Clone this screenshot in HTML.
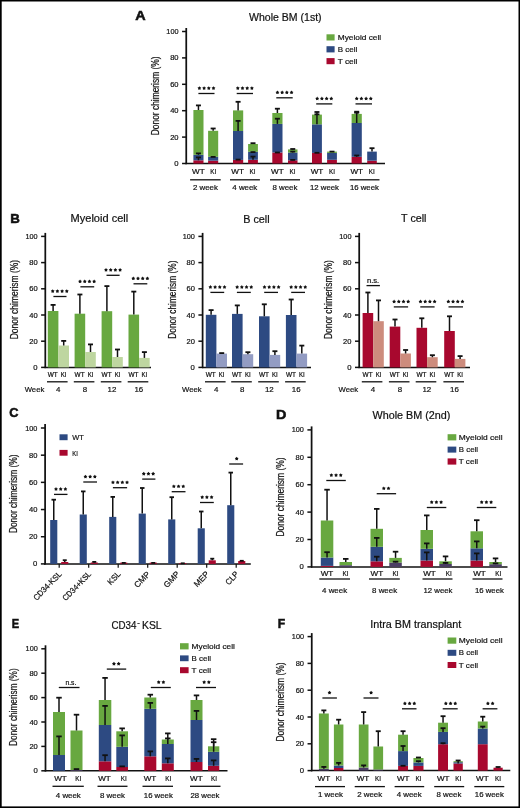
<!DOCTYPE html>
<html><head><meta charset="utf-8"><title>Figure</title>
<style>html,body{margin:0;padding:0;background:#fff;}svg{display:block;will-change:transform;}</style>
</head><body>
<svg width="520" height="808" viewBox="0 0 520 808" font-family='"Liberation Sans", sans-serif' fill="#111111">
<style>text{stroke:#111111;stroke-width:0.2px;}</style>
<rect x="0" y="0" width="520" height="808" fill="#ffffff"/>
<text x="135.2" y="20.2" font-size="13.3" textLength="10.4" lengthAdjust="spacingAndGlyphs" font-weight="bold" style="stroke-width:0.55px">A</text>
<text x="249" y="21.2" font-size="10.3" textLength="72.6" lengthAdjust="spacingAndGlyphs">Whole BM (1st)</text>
<rect x="326.5" y="34.3" width="8.1" height="6.2" fill="#68a840"/>
<text x="337.8" y="40.1" font-size="8.1" textLength="43.4" lengthAdjust="spacingAndGlyphs">Myeloid cell</text>
<rect x="326.5" y="46.2" width="8.1" height="6.2" fill="#2d4a82"/>
<text x="337.8" y="52" font-size="8.1" textLength="19.6" lengthAdjust="spacingAndGlyphs">B cell</text>
<rect x="326.5" y="58.1" width="8.1" height="6.1" fill="#a8082e"/>
<text x="337.8" y="63.8" font-size="8.1" textLength="19.6" lengthAdjust="spacingAndGlyphs">T cell</text>
<line x1="186.25" y1="164.2" x2="186.25" y2="28" stroke="#111111" stroke-width="1.75"/>
<line x1="182.05" y1="163.5" x2="186.25" y2="163.5" stroke="#111111" stroke-width="1.5"/>
<text x="178.55" y="166" font-size="7.7" text-anchor="end" textLength="4.3" lengthAdjust="spacingAndGlyphs">0</text>
<line x1="182.05" y1="137.1" x2="186.25" y2="137.1" stroke="#111111" stroke-width="1.5"/>
<text x="178.55" y="139.6" font-size="7.7" text-anchor="end" textLength="8.4" lengthAdjust="spacingAndGlyphs">20</text>
<line x1="182.05" y1="110.7" x2="186.25" y2="110.7" stroke="#111111" stroke-width="1.5"/>
<text x="178.55" y="113.2" font-size="7.7" text-anchor="end" textLength="8.4" lengthAdjust="spacingAndGlyphs">40</text>
<line x1="182.05" y1="84.3" x2="186.25" y2="84.3" stroke="#111111" stroke-width="1.5"/>
<text x="178.55" y="86.8" font-size="7.7" text-anchor="end" textLength="8.4" lengthAdjust="spacingAndGlyphs">60</text>
<line x1="182.05" y1="57.9" x2="186.25" y2="57.9" stroke="#111111" stroke-width="1.5"/>
<text x="178.55" y="60.4" font-size="7.7" text-anchor="end" textLength="8.4" lengthAdjust="spacingAndGlyphs">80</text>
<line x1="182.05" y1="31.5" x2="186.25" y2="31.5" stroke="#111111" stroke-width="1.5"/>
<text x="178.55" y="34" font-size="7.7" text-anchor="end" textLength="12.2" lengthAdjust="spacingAndGlyphs">100</text>
<text x="158.9" y="95.85" font-size="10" text-anchor="middle" textLength="78.7" lengthAdjust="spacingAndGlyphs" transform="rotate(-90 158.9 95.85)">Donor chimerism (%)</text>
<line x1="185.5" y1="163.5" x2="385" y2="163.5" stroke="#111111" stroke-width="1.5"/>
<rect x="193.4" y="160.3" width="10.1" height="3.2" fill="#a8082e"/>
<rect x="193.4" y="154.8" width="10.1" height="5.5" fill="#2d4a82"/>
<rect x="193.4" y="110" width="10.1" height="44.8" fill="#68a840"/>
<line x1="198.45" y1="160.3" x2="198.45" y2="157.4" stroke="#111111" stroke-width="1.5"/>
<rect x="195.95" y="156.5" width="5" height="1.8" fill="#111111"/>
<line x1="198.45" y1="154.8" x2="198.45" y2="153.4" stroke="#111111" stroke-width="1.5"/>
<rect x="195.95" y="152.5" width="5" height="1.8" fill="#111111"/>
<line x1="198.45" y1="110" x2="198.45" y2="105.4" stroke="#111111" stroke-width="1.5"/>
<rect x="195.95" y="104.5" width="5" height="1.8" fill="#111111"/>
<rect x="208.1" y="160.7" width="10.1" height="2.8" fill="#a8082e"/>
<rect x="208.1" y="156.8" width="10.1" height="3.9" fill="#2d4a82"/>
<rect x="208.1" y="130.8" width="10.1" height="26" fill="#68a840"/>
<line x1="213.15" y1="156.8" x2="213.15" y2="156.9" stroke="#111111" stroke-width="1.5"/>
<rect x="210.65" y="156" width="5" height="1.8" fill="#111111"/>
<line x1="213.15" y1="130.8" x2="213.15" y2="128.5" stroke="#111111" stroke-width="1.5"/>
<rect x="210.65" y="127.6" width="5" height="1.8" fill="#111111"/>
<rect x="233" y="159.9" width="10.2" height="3.6" fill="#a8082e"/>
<rect x="233" y="131" width="10.2" height="28.9" fill="#2d4a82"/>
<rect x="233" y="110.4" width="10.2" height="20.6" fill="#68a840"/>
<line x1="238.1" y1="159.9" x2="238.1" y2="159.6" stroke="#111111" stroke-width="1.5"/>
<rect x="235.6" y="158.7" width="5" height="1.8" fill="#111111"/>
<line x1="238.1" y1="131" x2="238.1" y2="120.9" stroke="#111111" stroke-width="1.5"/>
<rect x="235.6" y="120" width="5" height="1.8" fill="#111111"/>
<line x1="238.1" y1="110.4" x2="238.1" y2="101.8" stroke="#111111" stroke-width="1.5"/>
<rect x="235.6" y="100.9" width="5" height="1.8" fill="#111111"/>
<rect x="248.1" y="159.8" width="9.8" height="3.7" fill="#a8082e"/>
<rect x="248.1" y="151.8" width="9.8" height="8" fill="#2d4a82"/>
<rect x="248.1" y="144" width="9.8" height="7.8" fill="#68a840"/>
<line x1="253" y1="159.8" x2="253" y2="156.6" stroke="#111111" stroke-width="1.5"/>
<rect x="250.5" y="155.7" width="5" height="1.8" fill="#111111"/>
<line x1="253" y1="151.8" x2="253" y2="152.1" stroke="#111111" stroke-width="1.5"/>
<rect x="250.5" y="151.2" width="5" height="1.8" fill="#111111"/>
<line x1="253" y1="144" x2="253" y2="143.2" stroke="#111111" stroke-width="1.5"/>
<rect x="250.5" y="142.3" width="5" height="1.8" fill="#111111"/>
<rect x="272.3" y="152.5" width="10.2" height="11" fill="#a8082e"/>
<rect x="272.3" y="123.9" width="10.2" height="28.6" fill="#2d4a82"/>
<rect x="272.3" y="113" width="10.2" height="10.9" fill="#68a840"/>
<line x1="277.4" y1="152.5" x2="277.4" y2="152.5" stroke="#111111" stroke-width="1.5"/>
<rect x="274.9" y="151.6" width="5" height="1.8" fill="#111111"/>
<line x1="277.4" y1="123.9" x2="277.4" y2="118.7" stroke="#111111" stroke-width="1.5"/>
<rect x="274.9" y="117.8" width="5" height="1.8" fill="#111111"/>
<line x1="277.4" y1="113" x2="277.4" y2="108.7" stroke="#111111" stroke-width="1.5"/>
<rect x="274.9" y="107.8" width="5" height="1.8" fill="#111111"/>
<rect x="288" y="160.3" width="9.5" height="3.2" fill="#a8082e"/>
<rect x="288" y="152.5" width="9.5" height="7.8" fill="#2d4a82"/>
<rect x="288" y="149.4" width="9.5" height="3.1" fill="#68a840"/>
<line x1="292.75" y1="160.3" x2="292.75" y2="159.9" stroke="#111111" stroke-width="1.5"/>
<rect x="290.25" y="159" width="5" height="1.8" fill="#111111"/>
<line x1="292.75" y1="152.5" x2="292.75" y2="151.6" stroke="#111111" stroke-width="1.5"/>
<rect x="290.25" y="150.7" width="5" height="1.8" fill="#111111"/>
<line x1="292.75" y1="149.4" x2="292.75" y2="149" stroke="#111111" stroke-width="1.5"/>
<rect x="290.25" y="148.1" width="5" height="1.8" fill="#111111"/>
<rect x="312" y="152.9" width="9.9" height="10.6" fill="#a8082e"/>
<rect x="312" y="124.3" width="9.9" height="28.6" fill="#2d4a82"/>
<rect x="312" y="114.6" width="9.9" height="9.7" fill="#68a840"/>
<line x1="316.95" y1="152.9" x2="316.95" y2="152.8" stroke="#111111" stroke-width="1.5"/>
<rect x="314.45" y="151.9" width="5" height="1.8" fill="#111111"/>
<line x1="316.95" y1="124.3" x2="316.95" y2="114.3" stroke="#111111" stroke-width="1.5"/>
<rect x="314.45" y="113.4" width="5" height="1.8" fill="#111111"/>
<line x1="316.95" y1="114.6" x2="316.95" y2="112" stroke="#111111" stroke-width="1.5"/>
<rect x="314.45" y="111.1" width="5" height="1.8" fill="#111111"/>
<rect x="327.1" y="159.8" width="9.8" height="3.7" fill="#a8082e"/>
<rect x="327.1" y="152.9" width="9.8" height="6.9" fill="#2d4a82"/>
<rect x="327.1" y="151.6" width="9.8" height="1.3" fill="#68a840"/>
<line x1="332" y1="151.6" x2="332" y2="151.6" stroke="#111111" stroke-width="1.5"/>
<rect x="329.5" y="150.7" width="5" height="1.8" fill="#111111"/>
<rect x="351.6" y="156.8" width="10.2" height="6.7" fill="#a8082e"/>
<rect x="351.6" y="123" width="10.2" height="33.8" fill="#2d4a82"/>
<rect x="351.6" y="113.9" width="10.2" height="9.1" fill="#68a840"/>
<line x1="356.7" y1="156.8" x2="356.7" y2="155.5" stroke="#111111" stroke-width="1.5"/>
<rect x="354.2" y="154.6" width="5" height="1.8" fill="#111111"/>
<line x1="356.7" y1="123" x2="356.7" y2="112.7" stroke="#111111" stroke-width="1.5"/>
<rect x="354.2" y="111.8" width="5" height="1.8" fill="#111111"/>
<line x1="356.7" y1="113.9" x2="356.7" y2="111.7" stroke="#111111" stroke-width="1.5"/>
<rect x="354.2" y="110.8" width="5" height="1.8" fill="#111111"/>
<rect x="367.2" y="160.7" width="9.6" height="2.8" fill="#a8082e"/>
<rect x="367.2" y="151.6" width="9.6" height="9.1" fill="#2d4a82"/>
<line x1="372" y1="151.6" x2="372" y2="148.2" stroke="#111111" stroke-width="1.5"/>
<rect x="369.5" y="147.3" width="5" height="1.8" fill="#111111"/>
<polygon points="199.4,86.2 200.11,87.23 201.3,87.58 200.54,88.57 200.58,89.82 199.4,89.4 198.22,89.82 198.26,88.57 197.5,87.58 198.69,87.23" fill="#111111"/>
<polygon points="204.1,86.2 204.81,87.23 206,87.58 205.24,88.57 205.28,89.82 204.1,89.4 202.92,89.82 202.96,88.57 202.2,87.58 203.39,87.23" fill="#111111"/>
<polygon points="208.8,86.2 209.51,87.23 210.7,87.58 209.94,88.57 209.98,89.82 208.8,89.4 207.62,89.82 207.66,88.57 206.9,87.58 208.09,87.23" fill="#111111"/>
<polygon points="213.5,86.2 214.21,87.23 215.4,87.58 214.64,88.57 214.68,89.82 213.5,89.4 212.32,89.82 212.36,88.57 211.6,87.58 212.79,87.23" fill="#111111"/>
<line x1="198.4" y1="93.5" x2="214.5" y2="93.5" stroke="#111111" stroke-width="1.3"/>
<polygon points="237.8,86.2 238.51,87.23 239.7,87.58 238.94,88.57 238.98,89.82 237.8,89.4 236.62,89.82 236.66,88.57 235.9,87.58 237.09,87.23" fill="#111111"/>
<polygon points="242.5,86.2 243.21,87.23 244.4,87.58 243.64,88.57 243.68,89.82 242.5,89.4 241.32,89.82 241.36,88.57 240.6,87.58 241.79,87.23" fill="#111111"/>
<polygon points="247.2,86.2 247.91,87.23 249.1,87.58 248.34,88.57 248.38,89.82 247.2,89.4 246.02,89.82 246.06,88.57 245.3,87.58 246.49,87.23" fill="#111111"/>
<polygon points="251.9,86.2 252.61,87.23 253.8,87.58 253.04,88.57 253.08,89.82 251.9,89.4 250.72,89.82 250.76,88.57 250,87.58 251.19,87.23" fill="#111111"/>
<line x1="236.7" y1="93.5" x2="253" y2="93.5" stroke="#111111" stroke-width="1.3"/>
<polygon points="277.45,90.5 278.16,91.53 279.35,91.88 278.59,92.87 278.63,94.12 277.45,93.7 276.27,94.12 276.31,92.87 275.55,91.88 276.74,91.53" fill="#111111"/>
<polygon points="282.15,90.5 282.86,91.53 284.05,91.88 283.29,92.87 283.33,94.12 282.15,93.7 280.97,94.12 281.01,92.87 280.25,91.88 281.44,91.53" fill="#111111"/>
<polygon points="286.85,90.5 287.56,91.53 288.75,91.88 287.99,92.87 288.03,94.12 286.85,93.7 285.67,94.12 285.71,92.87 284.95,91.88 286.14,91.53" fill="#111111"/>
<polygon points="291.55,90.5 292.26,91.53 293.45,91.88 292.69,92.87 292.73,94.12 291.55,93.7 290.37,94.12 290.41,92.87 289.65,91.88 290.84,91.53" fill="#111111"/>
<line x1="276.3" y1="97.8" x2="292.7" y2="97.8" stroke="#111111" stroke-width="1.3"/>
<polygon points="317.2,96.6 317.91,97.63 319.1,97.98 318.34,98.97 318.38,100.22 317.2,99.8 316.02,100.22 316.06,98.97 315.3,97.98 316.49,97.63" fill="#111111"/>
<polygon points="321.9,96.6 322.61,97.63 323.8,97.98 323.04,98.97 323.08,100.22 321.9,99.8 320.72,100.22 320.76,98.97 320,97.98 321.19,97.63" fill="#111111"/>
<polygon points="326.6,96.6 327.31,97.63 328.5,97.98 327.74,98.97 327.78,100.22 326.6,99.8 325.42,100.22 325.46,98.97 324.7,97.98 325.89,97.63" fill="#111111"/>
<polygon points="331.3,96.6 332.01,97.63 333.2,97.98 332.44,98.97 332.48,100.22 331.3,99.8 330.12,100.22 330.16,98.97 329.4,97.98 330.59,97.63" fill="#111111"/>
<line x1="316.2" y1="103.9" x2="332.3" y2="103.9" stroke="#111111" stroke-width="1.3"/>
<polygon points="356.7,96.6 357.41,97.63 358.6,97.98 357.84,98.97 357.88,100.22 356.7,99.8 355.52,100.22 355.56,98.97 354.8,97.98 355.99,97.63" fill="#111111"/>
<polygon points="361.4,96.6 362.11,97.63 363.3,97.98 362.54,98.97 362.58,100.22 361.4,99.8 360.22,100.22 360.26,98.97 359.5,97.98 360.69,97.63" fill="#111111"/>
<polygon points="366.1,96.6 366.81,97.63 368,97.98 367.24,98.97 367.28,100.22 366.1,99.8 364.92,100.22 364.96,98.97 364.2,97.98 365.39,97.63" fill="#111111"/>
<polygon points="370.8,96.6 371.51,97.63 372.7,97.98 371.94,98.97 371.98,100.22 370.8,99.8 369.62,100.22 369.66,98.97 368.9,97.98 370.09,97.63" fill="#111111"/>
<line x1="355.5" y1="103.9" x2="372" y2="103.9" stroke="#111111" stroke-width="1.3"/>
<text x="198.4" y="174.11" font-size="7.3" text-anchor="middle" textLength="12.6" lengthAdjust="spacingAndGlyphs">WT</text>
<text x="213.2" y="174.11" font-size="7.3" text-anchor="middle" textLength="6" lengthAdjust="spacingAndGlyphs">KI</text>
<line x1="190.1" y1="179.8" x2="220.7" y2="179.8" stroke="#111111" stroke-width="1.3"/>
<text x="205.4" y="190.41" font-size="7.6" text-anchor="middle" textLength="25" lengthAdjust="spacingAndGlyphs">2 week</text>
<text x="237.6" y="174.11" font-size="7.3" text-anchor="middle" textLength="12.6" lengthAdjust="spacingAndGlyphs">WT</text>
<text x="252.6" y="174.11" font-size="7.3" text-anchor="middle" textLength="6" lengthAdjust="spacingAndGlyphs">KI</text>
<line x1="230" y1="179.8" x2="259.9" y2="179.8" stroke="#111111" stroke-width="1.3"/>
<text x="244.8" y="190.41" font-size="7.6" text-anchor="middle" textLength="25" lengthAdjust="spacingAndGlyphs">4 week</text>
<text x="277.4" y="174.11" font-size="7.3" text-anchor="middle" textLength="12.6" lengthAdjust="spacingAndGlyphs">WT</text>
<text x="292.6" y="174.11" font-size="7.3" text-anchor="middle" textLength="6" lengthAdjust="spacingAndGlyphs">KI</text>
<line x1="270" y1="179.8" x2="300" y2="179.8" stroke="#111111" stroke-width="1.3"/>
<text x="284.9" y="190.41" font-size="7.6" text-anchor="middle" textLength="25" lengthAdjust="spacingAndGlyphs">8 week</text>
<text x="317" y="174.11" font-size="7.3" text-anchor="middle" textLength="12.6" lengthAdjust="spacingAndGlyphs">WT</text>
<text x="332" y="174.11" font-size="7.3" text-anchor="middle" textLength="6" lengthAdjust="spacingAndGlyphs">KI</text>
<line x1="309.5" y1="179.8" x2="339.5" y2="179.8" stroke="#111111" stroke-width="1.3"/>
<text x="324.5" y="190.41" font-size="7.6" text-anchor="middle" textLength="29" lengthAdjust="spacingAndGlyphs">12 week</text>
<text x="356.7" y="174.11" font-size="7.3" text-anchor="middle" textLength="12.6" lengthAdjust="spacingAndGlyphs">WT</text>
<text x="371.8" y="174.11" font-size="7.3" text-anchor="middle" textLength="6" lengthAdjust="spacingAndGlyphs">KI</text>
<line x1="349.5" y1="179.8" x2="379.5" y2="179.8" stroke="#111111" stroke-width="1.3"/>
<text x="364.4" y="190.41" font-size="7.6" text-anchor="middle" textLength="29" lengthAdjust="spacingAndGlyphs">16 week</text>
<text x="10.2" y="222.7" font-size="13.3" textLength="9.6" lengthAdjust="spacingAndGlyphs" font-weight="bold" style="stroke-width:0.55px">B</text>
<text x="70.6" y="222.2" font-size="10.3" textLength="57.6" lengthAdjust="spacingAndGlyphs">Myeloid cell</text>
<text x="243.2" y="222.5" font-size="10.3" textLength="26.4" lengthAdjust="spacingAndGlyphs">B cell</text>
<text x="401.1" y="222.2" font-size="10.3" textLength="25.4" lengthAdjust="spacingAndGlyphs">T cell</text>
<line x1="45.3" y1="368.1" x2="45.3" y2="232.9" stroke="#111111" stroke-width="1.75"/>
<line x1="41.1" y1="367.4" x2="45.3" y2="367.4" stroke="#111111" stroke-width="1.5"/>
<text x="37.6" y="369.9" font-size="7.7" text-anchor="end" textLength="4.3" lengthAdjust="spacingAndGlyphs">0</text>
<line x1="41.1" y1="341.2" x2="45.3" y2="341.2" stroke="#111111" stroke-width="1.5"/>
<text x="37.6" y="343.7" font-size="7.7" text-anchor="end" textLength="8.4" lengthAdjust="spacingAndGlyphs">20</text>
<line x1="41.1" y1="315" x2="45.3" y2="315" stroke="#111111" stroke-width="1.5"/>
<text x="37.6" y="317.5" font-size="7.7" text-anchor="end" textLength="8.4" lengthAdjust="spacingAndGlyphs">40</text>
<line x1="41.1" y1="288.8" x2="45.3" y2="288.8" stroke="#111111" stroke-width="1.5"/>
<text x="37.6" y="291.3" font-size="7.7" text-anchor="end" textLength="8.4" lengthAdjust="spacingAndGlyphs">60</text>
<line x1="41.1" y1="262.6" x2="45.3" y2="262.6" stroke="#111111" stroke-width="1.5"/>
<text x="37.6" y="265.1" font-size="7.7" text-anchor="end" textLength="8.4" lengthAdjust="spacingAndGlyphs">80</text>
<line x1="41.1" y1="236.4" x2="45.3" y2="236.4" stroke="#111111" stroke-width="1.5"/>
<text x="37.6" y="238.9" font-size="7.7" text-anchor="end" textLength="12.2" lengthAdjust="spacingAndGlyphs">100</text>
<text x="17.8" y="299.6" font-size="10" text-anchor="middle" textLength="79.3" lengthAdjust="spacingAndGlyphs" transform="rotate(-90 17.8 299.6)">Donor chimerism (%)</text>
<line x1="44.6" y1="367.4" x2="151" y2="367.4" stroke="#111111" stroke-width="1.5"/>
<rect x="47.8" y="311" width="10.6" height="56.4" fill="#68a840"/>
<line x1="53.1" y1="311" x2="53.1" y2="304.9" stroke="#111111" stroke-width="1.5"/>
<rect x="50.6" y="304" width="5" height="1.8" fill="#111111"/>
<rect x="58.4" y="345.5" width="10.6" height="21.9" fill="#bed6a0"/>
<line x1="63.7" y1="345.5" x2="63.7" y2="340.9" stroke="#111111" stroke-width="1.5"/>
<rect x="61.2" y="340" width="5" height="1.8" fill="#111111"/>
<rect x="74.6" y="313.7" width="10.6" height="53.7" fill="#68a840"/>
<line x1="79.9" y1="313.7" x2="79.9" y2="294.5" stroke="#111111" stroke-width="1.5"/>
<rect x="77.4" y="293.6" width="5" height="1.8" fill="#111111"/>
<rect x="85.2" y="352" width="10.6" height="15.4" fill="#bed6a0"/>
<line x1="90.5" y1="352" x2="90.5" y2="344.4" stroke="#111111" stroke-width="1.5"/>
<rect x="88" y="343.5" width="5" height="1.8" fill="#111111"/>
<rect x="101.6" y="311.2" width="10.6" height="56.2" fill="#68a840"/>
<line x1="106.9" y1="311.2" x2="106.9" y2="286.1" stroke="#111111" stroke-width="1.5"/>
<rect x="104.4" y="285.2" width="5" height="1.8" fill="#111111"/>
<rect x="112.2" y="357" width="10.6" height="10.4" fill="#bed6a0"/>
<line x1="117.5" y1="357" x2="117.5" y2="349.5" stroke="#111111" stroke-width="1.5"/>
<rect x="115" y="348.6" width="5" height="1.8" fill="#111111"/>
<rect x="128.5" y="314.6" width="10.6" height="52.8" fill="#68a840"/>
<line x1="133.8" y1="314.6" x2="133.8" y2="291.6" stroke="#111111" stroke-width="1.5"/>
<rect x="131.3" y="290.7" width="5" height="1.8" fill="#111111"/>
<rect x="139.1" y="357.9" width="10.6" height="9.5" fill="#bed6a0"/>
<line x1="144.4" y1="357.9" x2="144.4" y2="352.1" stroke="#111111" stroke-width="1.5"/>
<rect x="141.9" y="351.2" width="5" height="1.8" fill="#111111"/>
<text x="52.8" y="376.8" font-size="6.4" text-anchor="middle" textLength="10" lengthAdjust="spacingAndGlyphs">WT</text>
<text x="63.7" y="376.8" font-size="6.4" text-anchor="middle" textLength="5.7" lengthAdjust="spacingAndGlyphs">KI</text>
<line x1="47" y1="381.8" x2="67.6" y2="381.8" stroke="#111111" stroke-width="1.3"/>
<text x="58.1" y="391.8" font-size="8" text-anchor="middle" textLength="4.4" lengthAdjust="spacingAndGlyphs">4</text>
<text x="79.6" y="376.8" font-size="6.4" text-anchor="middle" textLength="10" lengthAdjust="spacingAndGlyphs">WT</text>
<text x="90.5" y="376.8" font-size="6.4" text-anchor="middle" textLength="5.7" lengthAdjust="spacingAndGlyphs">KI</text>
<line x1="73.8" y1="381.8" x2="94.4" y2="381.8" stroke="#111111" stroke-width="1.3"/>
<text x="84.9" y="391.8" font-size="8" text-anchor="middle" textLength="4.4" lengthAdjust="spacingAndGlyphs">8</text>
<text x="106.6" y="376.8" font-size="6.4" text-anchor="middle" textLength="10" lengthAdjust="spacingAndGlyphs">WT</text>
<text x="117.5" y="376.8" font-size="6.4" text-anchor="middle" textLength="5.7" lengthAdjust="spacingAndGlyphs">KI</text>
<line x1="100.8" y1="381.8" x2="121.4" y2="381.8" stroke="#111111" stroke-width="1.3"/>
<text x="111.9" y="391.8" font-size="8" text-anchor="middle" textLength="8.8" lengthAdjust="spacingAndGlyphs">12</text>
<text x="133.5" y="376.8" font-size="6.4" text-anchor="middle" textLength="10" lengthAdjust="spacingAndGlyphs">WT</text>
<text x="144.4" y="376.8" font-size="6.4" text-anchor="middle" textLength="5.7" lengthAdjust="spacingAndGlyphs">KI</text>
<line x1="127.7" y1="381.8" x2="148.3" y2="381.8" stroke="#111111" stroke-width="1.3"/>
<text x="138.8" y="391.8" font-size="8" text-anchor="middle" textLength="8.8" lengthAdjust="spacingAndGlyphs">16</text>
<text x="24.7" y="391.8" font-size="8" textLength="19.6" lengthAdjust="spacingAndGlyphs">Week</text>
<polygon points="52.7,289.2 53.41,290.23 54.6,290.58 53.84,291.57 53.88,292.82 52.7,292.4 51.52,292.82 51.56,291.57 50.8,290.58 51.99,290.23" fill="#111111"/>
<polygon points="57.4,289.2 58.11,290.23 59.3,290.58 58.54,291.57 58.58,292.82 57.4,292.4 56.22,292.82 56.26,291.57 55.5,290.58 56.69,290.23" fill="#111111"/>
<polygon points="62.1,289.2 62.81,290.23 64,290.58 63.24,291.57 63.28,292.82 62.1,292.4 60.92,292.82 60.96,291.57 60.2,290.58 61.39,290.23" fill="#111111"/>
<polygon points="66.8,289.2 67.51,290.23 68.7,290.58 67.94,291.57 67.98,292.82 66.8,292.4 65.62,292.82 65.66,291.57 64.9,290.58 66.09,290.23" fill="#111111"/>
<line x1="53.4" y1="296.5" x2="66.5" y2="296.5" stroke="#111111" stroke-width="1.3"/>
<polygon points="80.05,279.5 80.76,280.53 81.95,280.88 81.19,281.87 81.23,283.12 80.05,282.7 78.87,283.12 78.91,281.87 78.15,280.88 79.34,280.53" fill="#111111"/>
<polygon points="84.75,279.5 85.46,280.53 86.65,280.88 85.89,281.87 85.93,283.12 84.75,282.7 83.57,283.12 83.61,281.87 82.85,280.88 84.04,280.53" fill="#111111"/>
<polygon points="89.45,279.5 90.16,280.53 91.35,280.88 90.59,281.87 90.63,283.12 89.45,282.7 88.27,283.12 88.31,281.87 87.55,280.88 88.74,280.53" fill="#111111"/>
<polygon points="94.15,279.5 94.86,280.53 96.05,280.88 95.29,281.87 95.33,283.12 94.15,282.7 92.97,283.12 93.01,281.87 92.25,280.88 93.44,280.53" fill="#111111"/>
<line x1="80.4" y1="286.8" x2="94.2" y2="286.8" stroke="#111111" stroke-width="1.3"/>
<polygon points="106,268 106.71,269.03 107.9,269.38 107.14,270.37 107.18,271.62 106,271.2 104.82,271.62 104.86,270.37 104.1,269.38 105.29,269.03" fill="#111111"/>
<polygon points="110.7,268 111.41,269.03 112.6,269.38 111.84,270.37 111.88,271.62 110.7,271.2 109.52,271.62 109.56,270.37 108.8,269.38 109.99,269.03" fill="#111111"/>
<polygon points="115.4,268 116.11,269.03 117.3,269.38 116.54,270.37 116.58,271.62 115.4,271.2 114.22,271.62 114.26,270.37 113.5,269.38 114.69,269.03" fill="#111111"/>
<polygon points="120.1,268 120.81,269.03 122,269.38 121.24,270.37 121.28,271.62 120.1,271.2 118.92,271.62 118.96,270.37 118.2,269.38 119.39,269.03" fill="#111111"/>
<line x1="106.5" y1="275.3" x2="119.6" y2="275.3" stroke="#111111" stroke-width="1.3"/>
<polygon points="133.3,276.5 134.01,277.53 135.2,277.88 134.44,278.87 134.48,280.12 133.3,279.7 132.12,280.12 132.16,278.87 131.4,277.88 132.59,277.53" fill="#111111"/>
<polygon points="138,276.5 138.71,277.53 139.9,277.88 139.14,278.87 139.18,280.12 138,279.7 136.82,280.12 136.86,278.87 136.1,277.88 137.29,277.53" fill="#111111"/>
<polygon points="142.7,276.5 143.41,277.53 144.6,277.88 143.84,278.87 143.88,280.12 142.7,279.7 141.52,280.12 141.56,278.87 140.8,277.88 141.99,277.53" fill="#111111"/>
<polygon points="147.4,276.5 148.11,277.53 149.3,277.88 148.54,278.87 148.58,280.12 147.4,279.7 146.22,280.12 146.26,278.87 145.5,277.88 146.69,277.53" fill="#111111"/>
<line x1="133.5" y1="283.8" x2="147.3" y2="283.8" stroke="#111111" stroke-width="1.3"/>
<line x1="202.6" y1="368.1" x2="202.6" y2="232.9" stroke="#111111" stroke-width="1.75"/>
<line x1="198.4" y1="367.4" x2="202.6" y2="367.4" stroke="#111111" stroke-width="1.5"/>
<text x="194.9" y="369.9" font-size="7.7" text-anchor="end" textLength="4.3" lengthAdjust="spacingAndGlyphs">0</text>
<line x1="198.4" y1="341.2" x2="202.6" y2="341.2" stroke="#111111" stroke-width="1.5"/>
<text x="194.9" y="343.7" font-size="7.7" text-anchor="end" textLength="8.4" lengthAdjust="spacingAndGlyphs">20</text>
<line x1="198.4" y1="315" x2="202.6" y2="315" stroke="#111111" stroke-width="1.5"/>
<text x="194.9" y="317.5" font-size="7.7" text-anchor="end" textLength="8.4" lengthAdjust="spacingAndGlyphs">40</text>
<line x1="198.4" y1="288.8" x2="202.6" y2="288.8" stroke="#111111" stroke-width="1.5"/>
<text x="194.9" y="291.3" font-size="7.7" text-anchor="end" textLength="8.4" lengthAdjust="spacingAndGlyphs">60</text>
<line x1="198.4" y1="262.6" x2="202.6" y2="262.6" stroke="#111111" stroke-width="1.5"/>
<text x="194.9" y="265.1" font-size="7.7" text-anchor="end" textLength="8.4" lengthAdjust="spacingAndGlyphs">80</text>
<line x1="198.4" y1="236.4" x2="202.6" y2="236.4" stroke="#111111" stroke-width="1.5"/>
<text x="194.9" y="238.9" font-size="7.7" text-anchor="end" textLength="12.2" lengthAdjust="spacingAndGlyphs">100</text>
<text x="176.5" y="299.6" font-size="10" text-anchor="middle" textLength="78.1" lengthAdjust="spacingAndGlyphs" transform="rotate(-90 176.5 299.6)">Donor chimerism (%)</text>
<line x1="201.9" y1="367.4" x2="311" y2="367.4" stroke="#111111" stroke-width="1.5"/>
<rect x="205.8" y="314.8" width="10.6" height="52.6" fill="#2d4a82"/>
<line x1="211.1" y1="314.8" x2="211.1" y2="310.1" stroke="#111111" stroke-width="1.5"/>
<rect x="208.6" y="309.2" width="5" height="1.8" fill="#111111"/>
<rect x="216.4" y="353.6" width="10.6" height="13.8" fill="#939cc3"/>
<line x1="221.7" y1="353.6" x2="221.7" y2="353.1" stroke="#111111" stroke-width="1.5"/>
<rect x="219.2" y="352.2" width="5" height="1.8" fill="#111111"/>
<rect x="232" y="313.9" width="10.6" height="53.5" fill="#2d4a82"/>
<line x1="237.3" y1="313.9" x2="237.3" y2="305.4" stroke="#111111" stroke-width="1.5"/>
<rect x="234.8" y="304.5" width="5" height="1.8" fill="#111111"/>
<rect x="242.6" y="354.2" width="10.6" height="13.2" fill="#939cc3"/>
<line x1="247.9" y1="354.2" x2="247.9" y2="352.2" stroke="#111111" stroke-width="1.5"/>
<rect x="245.4" y="351.3" width="5" height="1.8" fill="#111111"/>
<rect x="259" y="316.3" width="10.6" height="51.1" fill="#2d4a82"/>
<line x1="264.3" y1="316.3" x2="264.3" y2="304.3" stroke="#111111" stroke-width="1.5"/>
<rect x="261.8" y="303.4" width="5" height="1.8" fill="#111111"/>
<rect x="269.6" y="354.9" width="10.6" height="12.5" fill="#939cc3"/>
<line x1="274.9" y1="354.9" x2="274.9" y2="351.2" stroke="#111111" stroke-width="1.5"/>
<rect x="272.4" y="350.3" width="5" height="1.8" fill="#111111"/>
<rect x="285.9" y="315" width="10.6" height="52.4" fill="#2d4a82"/>
<line x1="291.2" y1="315" x2="291.2" y2="299.5" stroke="#111111" stroke-width="1.5"/>
<rect x="288.7" y="298.6" width="5" height="1.8" fill="#111111"/>
<rect x="296.5" y="353.6" width="10.6" height="13.8" fill="#939cc3"/>
<line x1="301.8" y1="353.6" x2="301.8" y2="345.6" stroke="#111111" stroke-width="1.5"/>
<rect x="299.3" y="344.7" width="5" height="1.8" fill="#111111"/>
<text x="210.8" y="376.8" font-size="6.4" text-anchor="middle" textLength="10" lengthAdjust="spacingAndGlyphs">WT</text>
<text x="221.7" y="376.8" font-size="6.4" text-anchor="middle" textLength="5.7" lengthAdjust="spacingAndGlyphs">KI</text>
<line x1="205" y1="381.8" x2="225.6" y2="381.8" stroke="#111111" stroke-width="1.3"/>
<text x="216.1" y="391.8" font-size="8" text-anchor="middle" textLength="4.4" lengthAdjust="spacingAndGlyphs">4</text>
<text x="237" y="376.8" font-size="6.4" text-anchor="middle" textLength="10" lengthAdjust="spacingAndGlyphs">WT</text>
<text x="247.9" y="376.8" font-size="6.4" text-anchor="middle" textLength="5.7" lengthAdjust="spacingAndGlyphs">KI</text>
<line x1="231.2" y1="381.8" x2="251.8" y2="381.8" stroke="#111111" stroke-width="1.3"/>
<text x="242.3" y="391.8" font-size="8" text-anchor="middle" textLength="4.4" lengthAdjust="spacingAndGlyphs">8</text>
<text x="264" y="376.8" font-size="6.4" text-anchor="middle" textLength="10" lengthAdjust="spacingAndGlyphs">WT</text>
<text x="274.9" y="376.8" font-size="6.4" text-anchor="middle" textLength="5.7" lengthAdjust="spacingAndGlyphs">KI</text>
<line x1="258.2" y1="381.8" x2="278.8" y2="381.8" stroke="#111111" stroke-width="1.3"/>
<text x="269.3" y="391.8" font-size="8" text-anchor="middle" textLength="8.8" lengthAdjust="spacingAndGlyphs">12</text>
<text x="290.9" y="376.8" font-size="6.4" text-anchor="middle" textLength="10" lengthAdjust="spacingAndGlyphs">WT</text>
<text x="301.8" y="376.8" font-size="6.4" text-anchor="middle" textLength="5.7" lengthAdjust="spacingAndGlyphs">KI</text>
<line x1="285.1" y1="381.8" x2="305.7" y2="381.8" stroke="#111111" stroke-width="1.3"/>
<text x="296.2" y="391.8" font-size="8" text-anchor="middle" textLength="8.8" lengthAdjust="spacingAndGlyphs">16</text>
<text x="182" y="391.8" font-size="8" textLength="19.6" lengthAdjust="spacingAndGlyphs">Week</text>
<polygon points="210.4,285.1 211.11,286.13 212.3,286.48 211.54,287.47 211.58,288.72 210.4,288.3 209.22,288.72 209.26,287.47 208.5,286.48 209.69,286.13" fill="#111111"/>
<polygon points="215.1,285.1 215.81,286.13 217,286.48 216.24,287.47 216.28,288.72 215.1,288.3 213.92,288.72 213.96,287.47 213.2,286.48 214.39,286.13" fill="#111111"/>
<polygon points="219.8,285.1 220.51,286.13 221.7,286.48 220.94,287.47 220.98,288.72 219.8,288.3 218.62,288.72 218.66,287.47 217.9,286.48 219.09,286.13" fill="#111111"/>
<polygon points="224.5,285.1 225.21,286.13 226.4,286.48 225.64,287.47 225.68,288.72 224.5,288.3 223.32,288.72 223.36,287.47 222.6,286.48 223.79,286.13" fill="#111111"/>
<line x1="210.4" y1="292.4" x2="224.2" y2="292.4" stroke="#111111" stroke-width="1.3"/>
<polygon points="237.15,285.1 237.86,286.13 239.05,286.48 238.29,287.47 238.33,288.72 237.15,288.3 235.97,288.72 236.01,287.47 235.25,286.48 236.44,286.13" fill="#111111"/>
<polygon points="241.85,285.1 242.56,286.13 243.75,286.48 242.99,287.47 243.03,288.72 241.85,288.3 240.67,288.72 240.71,287.47 239.95,286.48 241.14,286.13" fill="#111111"/>
<polygon points="246.55,285.1 247.26,286.13 248.45,286.48 247.69,287.47 247.73,288.72 246.55,288.3 245.37,288.72 245.41,287.47 244.65,286.48 245.84,286.13" fill="#111111"/>
<polygon points="251.25,285.1 251.96,286.13 253.15,286.48 252.39,287.47 252.43,288.72 251.25,288.3 250.07,288.72 250.11,287.47 249.35,286.48 250.54,286.13" fill="#111111"/>
<line x1="236.9" y1="292.4" x2="250.8" y2="292.4" stroke="#111111" stroke-width="1.3"/>
<polygon points="264.5,285.1 265.21,286.13 266.4,286.48 265.64,287.47 265.68,288.72 264.5,288.3 263.32,288.72 263.36,287.47 262.6,286.48 263.79,286.13" fill="#111111"/>
<polygon points="269.2,285.1 269.91,286.13 271.1,286.48 270.34,287.47 270.38,288.72 269.2,288.3 268.02,288.72 268.06,287.47 267.3,286.48 268.49,286.13" fill="#111111"/>
<polygon points="273.9,285.1 274.61,286.13 275.8,286.48 275.04,287.47 275.08,288.72 273.9,288.3 272.72,288.72 272.76,287.47 272,286.48 273.19,286.13" fill="#111111"/>
<polygon points="278.6,285.1 279.31,286.13 280.5,286.48 279.74,287.47 279.78,288.72 278.6,288.3 277.42,288.72 277.46,287.47 276.7,286.48 277.89,286.13" fill="#111111"/>
<line x1="264.2" y1="292.4" x2="278" y2="292.4" stroke="#111111" stroke-width="1.3"/>
<polygon points="291.15,285.1 291.86,286.13 293.05,286.48 292.29,287.47 292.33,288.72 291.15,288.3 289.97,288.72 290.01,287.47 289.25,286.48 290.44,286.13" fill="#111111"/>
<polygon points="295.85,285.1 296.56,286.13 297.75,286.48 296.99,287.47 297.03,288.72 295.85,288.3 294.67,288.72 294.71,287.47 293.95,286.48 295.14,286.13" fill="#111111"/>
<polygon points="300.55,285.1 301.26,286.13 302.45,286.48 301.69,287.47 301.73,288.72 300.55,288.3 299.37,288.72 299.41,287.47 298.65,286.48 299.84,286.13" fill="#111111"/>
<polygon points="305.25,285.1 305.96,286.13 307.15,286.48 306.39,287.47 306.43,288.72 305.25,288.3 304.07,288.72 304.11,287.47 303.35,286.48 304.54,286.13" fill="#111111"/>
<line x1="291.2" y1="292.4" x2="305" y2="292.4" stroke="#111111" stroke-width="1.3"/>
<line x1="359.2" y1="368.1" x2="359.2" y2="232.9" stroke="#111111" stroke-width="1.75"/>
<line x1="355" y1="367.4" x2="359.2" y2="367.4" stroke="#111111" stroke-width="1.5"/>
<text x="351.5" y="369.9" font-size="7.7" text-anchor="end" textLength="4.3" lengthAdjust="spacingAndGlyphs">0</text>
<line x1="355" y1="341.2" x2="359.2" y2="341.2" stroke="#111111" stroke-width="1.5"/>
<text x="351.5" y="343.7" font-size="7.7" text-anchor="end" textLength="8.4" lengthAdjust="spacingAndGlyphs">20</text>
<line x1="355" y1="315" x2="359.2" y2="315" stroke="#111111" stroke-width="1.5"/>
<text x="351.5" y="317.5" font-size="7.7" text-anchor="end" textLength="8.4" lengthAdjust="spacingAndGlyphs">40</text>
<line x1="355" y1="288.8" x2="359.2" y2="288.8" stroke="#111111" stroke-width="1.5"/>
<text x="351.5" y="291.3" font-size="7.7" text-anchor="end" textLength="8.4" lengthAdjust="spacingAndGlyphs">60</text>
<line x1="355" y1="262.6" x2="359.2" y2="262.6" stroke="#111111" stroke-width="1.5"/>
<text x="351.5" y="265.1" font-size="7.7" text-anchor="end" textLength="8.4" lengthAdjust="spacingAndGlyphs">80</text>
<line x1="355" y1="236.4" x2="359.2" y2="236.4" stroke="#111111" stroke-width="1.5"/>
<text x="351.5" y="238.9" font-size="7.7" text-anchor="end" textLength="12.2" lengthAdjust="spacingAndGlyphs">100</text>
<text x="332.3" y="299.6" font-size="10" text-anchor="middle" textLength="78.7" lengthAdjust="spacingAndGlyphs" transform="rotate(-90 332.3 299.6)">Donor chimerism (%)</text>
<line x1="358.5" y1="367.4" x2="470" y2="367.4" stroke="#111111" stroke-width="1.5"/>
<rect x="362.6" y="313" width="10.6" height="54.4" fill="#a8082e"/>
<line x1="367.9" y1="313" x2="367.9" y2="292.5" stroke="#111111" stroke-width="1.5"/>
<rect x="365.4" y="291.6" width="5" height="1.8" fill="#111111"/>
<rect x="373.2" y="321.2" width="10.6" height="46.2" fill="#cd8c7d"/>
<line x1="378.5" y1="321.2" x2="378.5" y2="300.4" stroke="#111111" stroke-width="1.5"/>
<rect x="376" y="299.5" width="5" height="1.8" fill="#111111"/>
<rect x="389.7" y="326.6" width="10.6" height="40.8" fill="#a8082e"/>
<line x1="395" y1="326.6" x2="395" y2="319.5" stroke="#111111" stroke-width="1.5"/>
<rect x="392.5" y="318.6" width="5" height="1.8" fill="#111111"/>
<rect x="400.3" y="353.5" width="10.6" height="13.9" fill="#cd8c7d"/>
<line x1="405.6" y1="353.5" x2="405.6" y2="350" stroke="#111111" stroke-width="1.5"/>
<rect x="403.1" y="349.1" width="5" height="1.8" fill="#111111"/>
<rect x="416.5" y="327.8" width="10.6" height="39.6" fill="#a8082e"/>
<line x1="421.8" y1="327.8" x2="421.8" y2="318.3" stroke="#111111" stroke-width="1.5"/>
<rect x="419.3" y="317.4" width="5" height="1.8" fill="#111111"/>
<rect x="427.1" y="357.2" width="10.6" height="10.2" fill="#cd8c7d"/>
<line x1="432.4" y1="357.2" x2="432.4" y2="355.2" stroke="#111111" stroke-width="1.5"/>
<rect x="429.9" y="354.3" width="5" height="1.8" fill="#111111"/>
<rect x="444.2" y="331" width="10.6" height="36.4" fill="#a8082e"/>
<line x1="449.5" y1="331" x2="449.5" y2="316.3" stroke="#111111" stroke-width="1.5"/>
<rect x="447" y="315.4" width="5" height="1.8" fill="#111111"/>
<rect x="454.8" y="358.9" width="10.6" height="8.5" fill="#cd8c7d"/>
<line x1="460.1" y1="358.9" x2="460.1" y2="356.1" stroke="#111111" stroke-width="1.5"/>
<rect x="457.6" y="355.2" width="5" height="1.8" fill="#111111"/>
<text x="367.6" y="376.8" font-size="6.4" text-anchor="middle" textLength="10" lengthAdjust="spacingAndGlyphs">WT</text>
<text x="378.5" y="376.8" font-size="6.4" text-anchor="middle" textLength="5.7" lengthAdjust="spacingAndGlyphs">KI</text>
<line x1="361.8" y1="381.8" x2="382.4" y2="381.8" stroke="#111111" stroke-width="1.3"/>
<text x="372.9" y="391.8" font-size="8" text-anchor="middle" textLength="4.4" lengthAdjust="spacingAndGlyphs">4</text>
<text x="394.7" y="376.8" font-size="6.4" text-anchor="middle" textLength="10" lengthAdjust="spacingAndGlyphs">WT</text>
<text x="405.6" y="376.8" font-size="6.4" text-anchor="middle" textLength="5.7" lengthAdjust="spacingAndGlyphs">KI</text>
<line x1="388.9" y1="381.8" x2="409.5" y2="381.8" stroke="#111111" stroke-width="1.3"/>
<text x="400" y="391.8" font-size="8" text-anchor="middle" textLength="4.4" lengthAdjust="spacingAndGlyphs">8</text>
<text x="421.5" y="376.8" font-size="6.4" text-anchor="middle" textLength="10" lengthAdjust="spacingAndGlyphs">WT</text>
<text x="432.4" y="376.8" font-size="6.4" text-anchor="middle" textLength="5.7" lengthAdjust="spacingAndGlyphs">KI</text>
<line x1="415.7" y1="381.8" x2="436.3" y2="381.8" stroke="#111111" stroke-width="1.3"/>
<text x="426.8" y="391.8" font-size="8" text-anchor="middle" textLength="8.8" lengthAdjust="spacingAndGlyphs">12</text>
<text x="449.2" y="376.8" font-size="6.4" text-anchor="middle" textLength="10" lengthAdjust="spacingAndGlyphs">WT</text>
<text x="460.1" y="376.8" font-size="6.4" text-anchor="middle" textLength="5.7" lengthAdjust="spacingAndGlyphs">KI</text>
<line x1="443.4" y1="381.8" x2="464" y2="381.8" stroke="#111111" stroke-width="1.3"/>
<text x="454.5" y="391.8" font-size="8" text-anchor="middle" textLength="8.8" lengthAdjust="spacingAndGlyphs">16</text>
<text x="338.6" y="391.8" font-size="8" textLength="19.6" lengthAdjust="spacingAndGlyphs">Week</text>
<text x="373.1" y="283" font-size="6.5" text-anchor="middle" textLength="12.2" lengthAdjust="spacingAndGlyphs">n.s.</text>
<line x1="366.5" y1="285.6" x2="379.9" y2="285.6" stroke="#111111" stroke-width="1.3"/>
<polygon points="394.1,299.6 394.81,300.63 396,300.98 395.24,301.97 395.28,303.22 394.1,302.8 392.92,303.22 392.96,301.97 392.2,300.98 393.39,300.63" fill="#111111"/>
<polygon points="398.8,299.6 399.51,300.63 400.7,300.98 399.94,301.97 399.98,303.22 398.8,302.8 397.62,303.22 397.66,301.97 396.9,300.98 398.09,300.63" fill="#111111"/>
<polygon points="403.5,299.6 404.21,300.63 405.4,300.98 404.64,301.97 404.68,303.22 403.5,302.8 402.32,303.22 402.36,301.97 401.6,300.98 402.79,300.63" fill="#111111"/>
<polygon points="408.2,299.6 408.91,300.63 410.1,300.98 409.34,301.97 409.38,303.22 408.2,302.8 407.02,303.22 407.06,301.97 406.3,300.98 407.49,300.63" fill="#111111"/>
<line x1="393.8" y1="306.9" x2="408.1" y2="306.9" stroke="#111111" stroke-width="1.3"/>
<polygon points="420.5,299.6 421.21,300.63 422.4,300.98 421.64,301.97 421.68,303.22 420.5,302.8 419.32,303.22 419.36,301.97 418.6,300.98 419.79,300.63" fill="#111111"/>
<polygon points="425.2,299.6 425.91,300.63 427.1,300.98 426.34,301.97 426.38,303.22 425.2,302.8 424.02,303.22 424.06,301.97 423.3,300.98 424.49,300.63" fill="#111111"/>
<polygon points="429.9,299.6 430.61,300.63 431.8,300.98 431.04,301.97 431.08,303.22 429.9,302.8 428.72,303.22 428.76,301.97 428,300.98 429.19,300.63" fill="#111111"/>
<polygon points="434.6,299.6 435.31,300.63 436.5,300.98 435.74,301.97 435.78,303.22 434.6,302.8 433.42,303.22 433.46,301.97 432.7,300.98 433.89,300.63" fill="#111111"/>
<line x1="420.3" y1="306.9" x2="434.6" y2="306.9" stroke="#111111" stroke-width="1.3"/>
<polygon points="448.35,299.6 449.06,300.63 450.25,300.98 449.49,301.97 449.53,303.22 448.35,302.8 447.17,303.22 447.21,301.97 446.45,300.98 447.64,300.63" fill="#111111"/>
<polygon points="453.05,299.6 453.76,300.63 454.95,300.98 454.19,301.97 454.23,303.22 453.05,302.8 451.87,303.22 451.91,301.97 451.15,300.98 452.34,300.63" fill="#111111"/>
<polygon points="457.75,299.6 458.46,300.63 459.65,300.98 458.89,301.97 458.93,303.22 457.75,302.8 456.57,303.22 456.61,301.97 455.85,300.98 457.04,300.63" fill="#111111"/>
<polygon points="462.45,299.6 463.16,300.63 464.35,300.98 463.59,301.97 463.63,303.22 462.45,302.8 461.27,303.22 461.31,301.97 460.55,300.98 461.74,300.63" fill="#111111"/>
<line x1="448.5" y1="306.9" x2="463" y2="306.9" stroke="#111111" stroke-width="1.3"/>
<text x="9.2" y="416.7" font-size="13.3" textLength="9.2" lengthAdjust="spacingAndGlyphs" font-weight="bold" style="stroke-width:0.55px">C</text>
<rect x="59.5" y="434.3" width="8.1" height="5.9" fill="#2d4a82"/>
<text x="72.3" y="440" font-size="8.1" textLength="11.6" lengthAdjust="spacingAndGlyphs">WT</text>
<rect x="59.5" y="449.9" width="8.1" height="5.8" fill="#a8082e"/>
<text x="72.3" y="455.6" font-size="8.1" textLength="5.6" lengthAdjust="spacingAndGlyphs">KI</text>
<line x1="45.1" y1="564.6" x2="45.1" y2="424" stroke="#111111" stroke-width="1.75"/>
<line x1="40.9" y1="563.9" x2="45.1" y2="563.9" stroke="#111111" stroke-width="1.5"/>
<text x="37.4" y="566.4" font-size="7.7" text-anchor="end" textLength="4.3" lengthAdjust="spacingAndGlyphs">0</text>
<line x1="40.9" y1="536.72" x2="45.1" y2="536.72" stroke="#111111" stroke-width="1.5"/>
<text x="37.4" y="539.22" font-size="7.7" text-anchor="end" textLength="8.4" lengthAdjust="spacingAndGlyphs">20</text>
<line x1="40.9" y1="509.54" x2="45.1" y2="509.54" stroke="#111111" stroke-width="1.5"/>
<text x="37.4" y="512.04" font-size="7.7" text-anchor="end" textLength="8.4" lengthAdjust="spacingAndGlyphs">40</text>
<line x1="40.9" y1="482.36" x2="45.1" y2="482.36" stroke="#111111" stroke-width="1.5"/>
<text x="37.4" y="484.86" font-size="7.7" text-anchor="end" textLength="8.4" lengthAdjust="spacingAndGlyphs">60</text>
<line x1="40.9" y1="455.18" x2="45.1" y2="455.18" stroke="#111111" stroke-width="1.5"/>
<text x="37.4" y="457.68" font-size="7.7" text-anchor="end" textLength="8.4" lengthAdjust="spacingAndGlyphs">80</text>
<line x1="40.9" y1="428" x2="45.1" y2="428" stroke="#111111" stroke-width="1.5"/>
<text x="37.4" y="430.5" font-size="7.7" text-anchor="end" textLength="12.2" lengthAdjust="spacingAndGlyphs">100</text>
<text x="17.3" y="493.8" font-size="10" text-anchor="middle" textLength="78.6" lengthAdjust="spacingAndGlyphs" transform="rotate(-90 17.3 493.8)">Donor chimerism (%)</text>
<line x1="44" y1="563.9" x2="250.8" y2="563.9" stroke="#111111" stroke-width="1.5"/>
<rect x="50.2" y="520" width="7.1" height="43.9" fill="#2d4a82"/>
<line x1="53.75" y1="520" x2="53.75" y2="499.7" stroke="#111111" stroke-width="1.5"/>
<rect x="51.5" y="498.8" width="4.5" height="1.8" fill="#111111"/>
<rect x="61.2" y="562" width="7.1" height="1.9" fill="#a8082e"/>
<line x1="64.75" y1="562" x2="64.75" y2="560.2" stroke="#111111" stroke-width="1.5"/>
<rect x="62.75" y="559.3" width="4" height="1.8" fill="#111111"/>
<line x1="59.2" y1="563.9" x2="59.2" y2="567.7" stroke="#111111" stroke-width="1.2"/>
<text x="62.2" y="574.6" font-size="8.2" text-anchor="end" textLength="36.8" lengthAdjust="spacingAndGlyphs" transform="rotate(-46 62.2 574.6)">CD34-KSL</text>
<rect x="79.7" y="514.5" width="7.1" height="49.4" fill="#2d4a82"/>
<line x1="83.25" y1="514.5" x2="83.25" y2="491.4" stroke="#111111" stroke-width="1.5"/>
<rect x="81" y="490.5" width="4.5" height="1.8" fill="#111111"/>
<rect x="90.7" y="562.5" width="7.1" height="1.4" fill="#a8082e"/>
<line x1="94.25" y1="562.5" x2="94.25" y2="561.9" stroke="#111111" stroke-width="1.5"/>
<rect x="92.25" y="561" width="4" height="1.8" fill="#111111"/>
<line x1="88.7" y1="563.9" x2="88.7" y2="567.7" stroke="#111111" stroke-width="1.2"/>
<text x="91.7" y="574.6" font-size="8.2" text-anchor="end" textLength="37.2" lengthAdjust="spacingAndGlyphs" transform="rotate(-46 91.7 574.6)">CD34+KSL</text>
<rect x="109.2" y="516.9" width="7.1" height="47" fill="#2d4a82"/>
<line x1="112.75" y1="516.9" x2="112.75" y2="496.9" stroke="#111111" stroke-width="1.5"/>
<rect x="110.5" y="496" width="4.5" height="1.8" fill="#111111"/>
<rect x="120.2" y="562.6" width="7.1" height="1.3" fill="#a8082e"/>
<line x1="123.75" y1="562.6" x2="123.75" y2="562.9" stroke="#111111" stroke-width="1.5"/>
<rect x="121.75" y="562" width="4" height="1.8" fill="#111111"/>
<line x1="118.2" y1="563.9" x2="118.2" y2="567.7" stroke="#111111" stroke-width="1.2"/>
<text x="121.2" y="574.6" font-size="8.2" text-anchor="end" textLength="15" lengthAdjust="spacingAndGlyphs" transform="rotate(-46 121.2 574.6)">KSL</text>
<rect x="138.7" y="513.6" width="7.1" height="50.3" fill="#2d4a82"/>
<line x1="142.25" y1="513.6" x2="142.25" y2="488" stroke="#111111" stroke-width="1.5"/>
<rect x="140" y="487.1" width="4.5" height="1.8" fill="#111111"/>
<rect x="149.7" y="562.6" width="7.1" height="1.3" fill="#a8082e"/>
<line x1="153.25" y1="562.6" x2="153.25" y2="562.9" stroke="#111111" stroke-width="1.5"/>
<rect x="151.25" y="562" width="4" height="1.8" fill="#111111"/>
<line x1="147.7" y1="563.9" x2="147.7" y2="567.7" stroke="#111111" stroke-width="1.2"/>
<text x="150.7" y="574.6" font-size="8.2" text-anchor="end" textLength="19" lengthAdjust="spacingAndGlyphs" transform="rotate(-46 150.7 574.6)">CMP</text>
<rect x="168.2" y="519.4" width="7.1" height="44.5" fill="#2d4a82"/>
<line x1="171.75" y1="519.4" x2="171.75" y2="497.2" stroke="#111111" stroke-width="1.5"/>
<rect x="169.5" y="496.3" width="4.5" height="1.8" fill="#111111"/>
<rect x="179.2" y="563" width="7.1" height="0.9" fill="#a8082e"/>
<line x1="182.75" y1="563" x2="182.75" y2="563.3" stroke="#111111" stroke-width="1.5"/>
<rect x="180.75" y="562.4" width="4" height="1.8" fill="#111111"/>
<line x1="177.2" y1="563.9" x2="177.2" y2="567.7" stroke="#111111" stroke-width="1.2"/>
<text x="180.2" y="574.6" font-size="8.2" text-anchor="end" textLength="19" lengthAdjust="spacingAndGlyphs" transform="rotate(-46 180.2 574.6)">GMP</text>
<rect x="197.7" y="528.3" width="7.1" height="35.6" fill="#2d4a82"/>
<line x1="201.25" y1="528.3" x2="201.25" y2="511.5" stroke="#111111" stroke-width="1.5"/>
<rect x="199" y="510.6" width="4.5" height="1.8" fill="#111111"/>
<rect x="208.7" y="560.3" width="7.1" height="3.6" fill="#a8082e"/>
<line x1="212.25" y1="560.3" x2="212.25" y2="558.7" stroke="#111111" stroke-width="1.5"/>
<rect x="210.25" y="557.8" width="4" height="1.8" fill="#111111"/>
<line x1="206.7" y1="563.9" x2="206.7" y2="567.7" stroke="#111111" stroke-width="1.2"/>
<text x="209.7" y="574.6" font-size="8.2" text-anchor="end" textLength="18" lengthAdjust="spacingAndGlyphs" transform="rotate(-46 209.7 574.6)">MEP</text>
<rect x="227.2" y="505.2" width="7.1" height="58.7" fill="#2d4a82"/>
<line x1="230.75" y1="505.2" x2="230.75" y2="472.6" stroke="#111111" stroke-width="1.5"/>
<rect x="228.5" y="471.7" width="4.5" height="1.8" fill="#111111"/>
<rect x="238.2" y="561" width="7.1" height="2.9" fill="#a8082e"/>
<line x1="241.75" y1="561" x2="241.75" y2="560.8" stroke="#111111" stroke-width="1.5"/>
<rect x="239.75" y="559.9" width="4" height="1.8" fill="#111111"/>
<line x1="236.2" y1="563.9" x2="236.2" y2="567.7" stroke="#111111" stroke-width="1.2"/>
<text x="239.2" y="574.6" font-size="8.2" text-anchor="end" textLength="15" lengthAdjust="spacingAndGlyphs" transform="rotate(-46 239.2 574.6)">CLP</text>
<polygon points="56,487.1 56.71,488.13 57.9,488.48 57.14,489.47 57.18,490.72 56,490.3 54.82,490.72 54.86,489.47 54.1,488.48 55.29,488.13" fill="#111111"/>
<polygon points="60.7,487.1 61.41,488.13 62.6,488.48 61.84,489.47 61.88,490.72 60.7,490.3 59.52,490.72 59.56,489.47 58.8,488.48 59.99,488.13" fill="#111111"/>
<polygon points="65.4,487.1 66.11,488.13 67.3,488.48 66.54,489.47 66.58,490.72 65.4,490.3 64.22,490.72 64.26,489.47 63.5,488.48 64.69,488.13" fill="#111111"/>
<line x1="54" y1="494.4" x2="67.5" y2="494.4" stroke="#111111" stroke-width="1.3"/>
<polygon points="85.45,474.7 86.16,475.73 87.35,476.08 86.59,477.07 86.63,478.32 85.45,477.9 84.27,478.32 84.31,477.07 83.55,476.08 84.74,475.73" fill="#111111"/>
<polygon points="90.15,474.7 90.86,475.73 92.05,476.08 91.29,477.07 91.33,478.32 90.15,477.9 88.97,478.32 89.01,477.07 88.25,476.08 89.44,475.73" fill="#111111"/>
<polygon points="94.85,474.7 95.56,475.73 96.75,476.08 95.99,477.07 96.03,478.32 94.85,477.9 93.67,478.32 93.71,477.07 92.95,476.08 94.14,475.73" fill="#111111"/>
<line x1="83.3" y1="482" x2="97" y2="482" stroke="#111111" stroke-width="1.3"/>
<polygon points="112.95,480.4 113.66,481.43 114.85,481.78 114.09,482.77 114.13,484.02 112.95,483.6 111.77,484.02 111.81,482.77 111.05,481.78 112.24,481.43" fill="#111111"/>
<polygon points="117.65,480.4 118.36,481.43 119.55,481.78 118.79,482.77 118.83,484.02 117.65,483.6 116.47,484.02 116.51,482.77 115.75,481.78 116.94,481.43" fill="#111111"/>
<polygon points="122.35,480.4 123.06,481.43 124.25,481.78 123.49,482.77 123.53,484.02 122.35,483.6 121.17,484.02 121.21,482.77 120.45,481.78 121.64,481.43" fill="#111111"/>
<polygon points="127.05,480.4 127.76,481.43 128.95,481.78 128.19,482.77 128.23,484.02 127.05,483.6 125.87,484.02 125.91,482.77 125.15,481.78 126.34,481.43" fill="#111111"/>
<line x1="112.9" y1="487.7" x2="127.1" y2="487.7" stroke="#111111" stroke-width="1.3"/>
<polygon points="143.75,471.8 144.46,472.83 145.65,473.18 144.89,474.17 144.93,475.42 143.75,475 142.57,475.42 142.61,474.17 141.85,473.18 143.04,472.83" fill="#111111"/>
<polygon points="148.45,471.8 149.16,472.83 150.35,473.18 149.59,474.17 149.63,475.42 148.45,475 147.27,475.42 147.31,474.17 146.55,473.18 147.74,472.83" fill="#111111"/>
<polygon points="153.15,471.8 153.86,472.83 155.05,473.18 154.29,474.17 154.33,475.42 153.15,475 151.97,475.42 152.01,474.17 151.25,473.18 152.44,472.83" fill="#111111"/>
<line x1="142.2" y1="479.1" x2="155.4" y2="479.1" stroke="#111111" stroke-width="1.3"/>
<polygon points="173.85,484.4 174.56,485.43 175.75,485.78 174.99,486.77 175.03,488.02 173.85,487.6 172.67,488.02 172.71,486.77 171.95,485.78 173.14,485.43" fill="#111111"/>
<polygon points="178.55,484.4 179.26,485.43 180.45,485.78 179.69,486.77 179.73,488.02 178.55,487.6 177.37,488.02 177.41,486.77 176.65,485.78 177.84,485.43" fill="#111111"/>
<polygon points="183.25,484.4 183.96,485.43 185.15,485.78 184.39,486.77 184.43,488.02 183.25,487.6 182.07,488.02 182.11,486.77 181.35,485.78 182.54,485.43" fill="#111111"/>
<line x1="171.7" y1="491.7" x2="185.5" y2="491.7" stroke="#111111" stroke-width="1.3"/>
<polygon points="202.2,495.2 202.91,496.23 204.1,496.58 203.34,497.57 203.38,498.82 202.2,498.4 201.02,498.82 201.06,497.57 200.3,496.58 201.49,496.23" fill="#111111"/>
<polygon points="206.9,495.2 207.61,496.23 208.8,496.58 208.04,497.57 208.08,498.82 206.9,498.4 205.72,498.82 205.76,497.57 205,496.58 206.19,496.23" fill="#111111"/>
<polygon points="211.6,495.2 212.31,496.23 213.5,496.58 212.74,497.57 212.78,498.82 211.6,498.4 210.42,498.82 210.46,497.57 209.7,496.58 210.89,496.23" fill="#111111"/>
<line x1="200" y1="502.5" x2="213.8" y2="502.5" stroke="#111111" stroke-width="1.3"/>
<polygon points="236.7,456.7 237.41,457.73 238.6,458.08 237.84,459.07 237.88,460.32 236.7,459.9 235.52,460.32 235.56,459.07 234.8,458.08 235.99,457.73" fill="#111111"/>
<line x1="229.2" y1="464" x2="243.1" y2="464" stroke="#111111" stroke-width="1.3"/>
<text x="276" y="418.5" font-size="13.3" textLength="10.4" lengthAdjust="spacingAndGlyphs" font-weight="bold" style="stroke-width:0.55px">D</text>
<text x="372.5" y="418.6" font-size="10.3" textLength="77.9" lengthAdjust="spacingAndGlyphs">Whole BM (2nd)</text>
<rect x="447.6" y="434.2" width="8.7" height="6.2" fill="#68a840"/>
<text x="458.8" y="440" font-size="8.1" textLength="43.8" lengthAdjust="spacingAndGlyphs">Myeloid cell</text>
<rect x="447.6" y="446.6" width="8.7" height="6" fill="#2d4a82"/>
<text x="458.8" y="452.2" font-size="8.1" textLength="19.2" lengthAdjust="spacingAndGlyphs">B cell</text>
<rect x="447.6" y="458.4" width="8.7" height="6.2" fill="#a8082e"/>
<text x="458.8" y="464.2" font-size="8.1" textLength="19.2" lengthAdjust="spacingAndGlyphs">T cell</text>
<line x1="311.6" y1="567.6" x2="311.6" y2="426.4" stroke="#111111" stroke-width="1.75"/>
<line x1="307.4" y1="566.9" x2="311.6" y2="566.9" stroke="#111111" stroke-width="1.5"/>
<text x="303.9" y="569.4" font-size="7.7" text-anchor="end" textLength="4.3" lengthAdjust="spacingAndGlyphs">0</text>
<line x1="307.4" y1="539.5" x2="311.6" y2="539.5" stroke="#111111" stroke-width="1.5"/>
<text x="303.9" y="542" font-size="7.7" text-anchor="end" textLength="8.4" lengthAdjust="spacingAndGlyphs">20</text>
<line x1="307.4" y1="512.1" x2="311.6" y2="512.1" stroke="#111111" stroke-width="1.5"/>
<text x="303.9" y="514.6" font-size="7.7" text-anchor="end" textLength="8.4" lengthAdjust="spacingAndGlyphs">40</text>
<line x1="307.4" y1="484.7" x2="311.6" y2="484.7" stroke="#111111" stroke-width="1.5"/>
<text x="303.9" y="487.2" font-size="7.7" text-anchor="end" textLength="8.4" lengthAdjust="spacingAndGlyphs">60</text>
<line x1="307.4" y1="457.3" x2="311.6" y2="457.3" stroke="#111111" stroke-width="1.5"/>
<text x="303.9" y="459.8" font-size="7.7" text-anchor="end" textLength="8.4" lengthAdjust="spacingAndGlyphs">80</text>
<line x1="307.4" y1="429.9" x2="311.6" y2="429.9" stroke="#111111" stroke-width="1.5"/>
<text x="303.9" y="432.4" font-size="7.7" text-anchor="end" textLength="12.2" lengthAdjust="spacingAndGlyphs">100</text>
<text x="283.7" y="497" font-size="10" text-anchor="middle" textLength="79" lengthAdjust="spacingAndGlyphs" transform="rotate(-90 283.7 497)">Donor chimerism (%)</text>
<line x1="311" y1="566.9" x2="507.5" y2="566.9" stroke="#111111" stroke-width="1.5"/>
<rect x="320.8" y="565.9" width="12.5" height="1" fill="#a8082e"/>
<rect x="320.8" y="557.5" width="12.5" height="8.4" fill="#2d4a82"/>
<rect x="320.8" y="520.5" width="12.5" height="37" fill="#68a840"/>
<line x1="327.05" y1="557.5" x2="327.05" y2="552.2" stroke="#111111" stroke-width="1.5"/>
<rect x="324.3" y="551.3" width="5.5" height="1.8" fill="#111111"/>
<line x1="327.05" y1="520.5" x2="327.05" y2="489.7" stroke="#111111" stroke-width="1.5"/>
<rect x="324.3" y="488.8" width="5.5" height="1.8" fill="#111111"/>
<rect x="339.5" y="565.2" width="12.5" height="1.7" fill="#4b3d63"/>
<rect x="339.5" y="562" width="12.5" height="3.2" fill="#68a840"/>
<line x1="345.75" y1="562" x2="345.75" y2="558.9" stroke="#111111" stroke-width="1.5"/>
<rect x="343" y="558" width="5.5" height="1.8" fill="#111111"/>
<rect x="370.5" y="561.3" width="12.5" height="5.6" fill="#a8082e"/>
<rect x="370.5" y="546.8" width="12.5" height="14.5" fill="#2d4a82"/>
<rect x="370.5" y="528.8" width="12.5" height="18" fill="#68a840"/>
<line x1="376.75" y1="561.3" x2="376.75" y2="556.7" stroke="#111111" stroke-width="1.5"/>
<rect x="374" y="555.8" width="5.5" height="1.8" fill="#111111"/>
<line x1="376.75" y1="546.8" x2="376.75" y2="537.9" stroke="#111111" stroke-width="1.5"/>
<rect x="374" y="537" width="5.5" height="1.8" fill="#111111"/>
<line x1="376.75" y1="528.8" x2="376.75" y2="508.9" stroke="#111111" stroke-width="1.5"/>
<rect x="374" y="508" width="5.5" height="1.8" fill="#111111"/>
<rect x="389.3" y="562.5" width="12.5" height="4.4" fill="#4b3d63"/>
<rect x="389.3" y="557.9" width="12.5" height="4.6" fill="#68a840"/>
<line x1="395.55" y1="562.5" x2="395.55" y2="561.7" stroke="#111111" stroke-width="1.5"/>
<rect x="392.8" y="560.8" width="5.5" height="1.8" fill="#111111"/>
<line x1="395.55" y1="557.9" x2="395.55" y2="551.7" stroke="#111111" stroke-width="1.5"/>
<rect x="392.8" y="550.8" width="5.5" height="1.8" fill="#111111"/>
<rect x="420.5" y="560.5" width="12.5" height="6.4" fill="#a8082e"/>
<rect x="420.5" y="548.8" width="12.5" height="11.7" fill="#2d4a82"/>
<rect x="420.5" y="530" width="12.5" height="18.8" fill="#68a840"/>
<line x1="426.75" y1="560.5" x2="426.75" y2="552.4" stroke="#111111" stroke-width="1.5"/>
<rect x="424" y="551.5" width="5.5" height="1.8" fill="#111111"/>
<line x1="426.75" y1="548.8" x2="426.75" y2="543.4" stroke="#111111" stroke-width="1.5"/>
<rect x="424" y="542.5" width="5.5" height="1.8" fill="#111111"/>
<line x1="426.75" y1="530" x2="426.75" y2="515.4" stroke="#111111" stroke-width="1.5"/>
<rect x="424" y="514.5" width="5.5" height="1.8" fill="#111111"/>
<rect x="439.3" y="564" width="12.5" height="2.9" fill="#4b3d63"/>
<rect x="439.3" y="561.3" width="12.5" height="2.7" fill="#68a840"/>
<line x1="445.55" y1="564" x2="445.55" y2="562.9" stroke="#111111" stroke-width="1.5"/>
<rect x="442.8" y="562" width="5.5" height="1.8" fill="#111111"/>
<line x1="445.55" y1="561.3" x2="445.55" y2="556.4" stroke="#111111" stroke-width="1.5"/>
<rect x="442.8" y="555.5" width="5.5" height="1.8" fill="#111111"/>
<rect x="470.5" y="560.5" width="12.5" height="6.4" fill="#a8082e"/>
<rect x="470.5" y="548.3" width="12.5" height="12.2" fill="#2d4a82"/>
<rect x="470.5" y="531.3" width="12.5" height="17" fill="#68a840"/>
<line x1="476.75" y1="560.5" x2="476.75" y2="553.4" stroke="#111111" stroke-width="1.5"/>
<rect x="474" y="552.5" width="5.5" height="1.8" fill="#111111"/>
<line x1="476.75" y1="548.3" x2="476.75" y2="541.4" stroke="#111111" stroke-width="1.5"/>
<rect x="474" y="540.5" width="5.5" height="1.8" fill="#111111"/>
<line x1="476.75" y1="531.3" x2="476.75" y2="520.2" stroke="#111111" stroke-width="1.5"/>
<rect x="474" y="519.3" width="5.5" height="1.8" fill="#111111"/>
<rect x="489.3" y="564.2" width="12.5" height="2.7" fill="#4b3d63"/>
<rect x="489.3" y="562" width="12.5" height="2.2" fill="#68a840"/>
<line x1="495.55" y1="564.2" x2="495.55" y2="563.4" stroke="#111111" stroke-width="1.5"/>
<rect x="492.8" y="562.5" width="5.5" height="1.8" fill="#111111"/>
<line x1="495.55" y1="562" x2="495.55" y2="558.4" stroke="#111111" stroke-width="1.5"/>
<rect x="492.8" y="557.5" width="5.5" height="1.8" fill="#111111"/>
<polygon points="331.35,473.2 332.06,474.23 333.25,474.58 332.49,475.57 332.53,476.82 331.35,476.4 330.17,476.82 330.21,475.57 329.45,474.58 330.64,474.23" fill="#111111"/>
<polygon points="336.05,473.2 336.76,474.23 337.95,474.58 337.19,475.57 337.23,476.82 336.05,476.4 334.87,476.82 334.91,475.57 334.15,474.58 335.34,474.23" fill="#111111"/>
<polygon points="340.75,473.2 341.46,474.23 342.65,474.58 341.89,475.57 341.93,476.82 340.75,476.4 339.57,476.82 339.61,475.57 338.85,474.58 340.04,474.23" fill="#111111"/>
<line x1="326.3" y1="480.5" x2="345.8" y2="480.5" stroke="#111111" stroke-width="1.3"/>
<polygon points="383.8,486.4 384.51,487.43 385.7,487.78 384.94,488.77 384.98,490.02 383.8,489.6 382.62,490.02 382.66,488.77 381.9,487.78 383.09,487.43" fill="#111111"/>
<polygon points="388.5,486.4 389.21,487.43 390.4,487.78 389.64,488.77 389.68,490.02 388.5,489.6 387.32,490.02 387.36,488.77 386.6,487.78 387.79,487.43" fill="#111111"/>
<line x1="376.7" y1="493.7" x2="396.1" y2="493.7" stroke="#111111" stroke-width="1.3"/>
<polygon points="431.7,500.2 432.41,501.23 433.6,501.58 432.84,502.57 432.88,503.82 431.7,503.4 430.52,503.82 430.56,502.57 429.8,501.58 430.99,501.23" fill="#111111"/>
<polygon points="436.4,500.2 437.11,501.23 438.3,501.58 437.54,502.57 437.58,503.82 436.4,503.4 435.22,503.82 435.26,502.57 434.5,501.58 435.69,501.23" fill="#111111"/>
<polygon points="441.1,500.2 441.81,501.23 443,501.58 442.24,502.57 442.28,503.82 441.1,503.4 439.92,503.82 439.96,502.57 439.2,501.58 440.39,501.23" fill="#111111"/>
<line x1="426.8" y1="507.5" x2="446.3" y2="507.5" stroke="#111111" stroke-width="1.3"/>
<polygon points="481.7,500.2 482.41,501.23 483.6,501.58 482.84,502.57 482.88,503.82 481.7,503.4 480.52,503.82 480.56,502.57 479.8,501.58 480.99,501.23" fill="#111111"/>
<polygon points="486.4,500.2 487.11,501.23 488.3,501.58 487.54,502.57 487.58,503.82 486.4,503.4 485.22,503.82 485.26,502.57 484.5,501.58 485.69,501.23" fill="#111111"/>
<polygon points="491.1,500.2 491.81,501.23 493,501.58 492.24,502.57 492.28,503.82 491.1,503.4 489.92,503.82 489.96,502.57 489.2,501.58 490.39,501.23" fill="#111111"/>
<line x1="476.8" y1="507.5" x2="496.3" y2="507.5" stroke="#111111" stroke-width="1.3"/>
<text x="327" y="576.11" font-size="7.3" text-anchor="middle" textLength="12.6" lengthAdjust="spacingAndGlyphs">WT</text>
<text x="345.6" y="576.11" font-size="7.3" text-anchor="middle" textLength="6" lengthAdjust="spacingAndGlyphs">KI</text>
<line x1="319.3" y1="579" x2="350" y2="579" stroke="#111111" stroke-width="1.3"/>
<text x="334.6" y="593.01" font-size="7.6" text-anchor="middle" textLength="25" lengthAdjust="spacingAndGlyphs">4 week</text>
<text x="376.8" y="576.11" font-size="7.3" text-anchor="middle" textLength="12.6" lengthAdjust="spacingAndGlyphs">WT</text>
<text x="395.5" y="576.11" font-size="7.3" text-anchor="middle" textLength="6" lengthAdjust="spacingAndGlyphs">KI</text>
<line x1="369" y1="579" x2="399.8" y2="579" stroke="#111111" stroke-width="1.3"/>
<text x="384.6" y="593.01" font-size="7.6" text-anchor="middle" textLength="25" lengthAdjust="spacingAndGlyphs">8 week</text>
<text x="429.5" y="576.11" font-size="7.3" text-anchor="middle" textLength="12.6" lengthAdjust="spacingAndGlyphs">WT</text>
<text x="448.8" y="576.11" font-size="7.3" text-anchor="middle" textLength="6" lengthAdjust="spacingAndGlyphs">KI</text>
<line x1="422.5" y1="579" x2="452.5" y2="579" stroke="#111111" stroke-width="1.3"/>
<text x="438" y="593.01" font-size="7.6" text-anchor="middle" textLength="29" lengthAdjust="spacingAndGlyphs">12 week</text>
<text x="479.5" y="576.11" font-size="7.3" text-anchor="middle" textLength="12.6" lengthAdjust="spacingAndGlyphs">WT</text>
<text x="498.3" y="576.11" font-size="7.3" text-anchor="middle" textLength="6" lengthAdjust="spacingAndGlyphs">KI</text>
<line x1="472.5" y1="579" x2="502.5" y2="579" stroke="#111111" stroke-width="1.3"/>
<text x="489.4" y="593.01" font-size="7.6" text-anchor="middle" textLength="29" lengthAdjust="spacingAndGlyphs">16 week</text>
<text x="11.8" y="627.7" font-size="13.3" textLength="7.4" lengthAdjust="spacingAndGlyphs" font-weight="bold" style="stroke-width:0.55px">E</text>
<text x="111.5" y="628.8" font-size="10.3" textLength="25" lengthAdjust="spacingAndGlyphs">CD34</text>
<text x="137.2" y="624.5" font-size="7" textLength="2.6" lengthAdjust="spacingAndGlyphs">-</text>
<text x="142" y="628.8" font-size="10.3" textLength="19.6" lengthAdjust="spacingAndGlyphs">KSL</text>
<rect x="180" y="643.2" width="8.6" height="6.2" fill="#68a840"/>
<text x="191.6" y="649" font-size="8.1" textLength="43.3" lengthAdjust="spacingAndGlyphs">Myeloid cell</text>
<rect x="180" y="655.4" width="8.6" height="5.8" fill="#2d4a82"/>
<text x="191.6" y="660.8" font-size="8.1" textLength="19.4" lengthAdjust="spacingAndGlyphs">B cell</text>
<rect x="180" y="667.2" width="8.6" height="6" fill="#a8082e"/>
<text x="191.6" y="672.8" font-size="8.1" textLength="19.4" lengthAdjust="spacingAndGlyphs">T cell</text>
<line x1="45.5" y1="771.5" x2="45.5" y2="645.3" stroke="#111111" stroke-width="1.75"/>
<line x1="41.3" y1="770.8" x2="45.5" y2="770.8" stroke="#111111" stroke-width="1.5"/>
<text x="37.8" y="773.3" font-size="7.7" text-anchor="end" textLength="4.3" lengthAdjust="spacingAndGlyphs">0</text>
<line x1="41.3" y1="746.4" x2="45.5" y2="746.4" stroke="#111111" stroke-width="1.5"/>
<text x="37.8" y="748.9" font-size="7.7" text-anchor="end" textLength="8.4" lengthAdjust="spacingAndGlyphs">20</text>
<line x1="41.3" y1="722" x2="45.5" y2="722" stroke="#111111" stroke-width="1.5"/>
<text x="37.8" y="724.5" font-size="7.7" text-anchor="end" textLength="8.4" lengthAdjust="spacingAndGlyphs">40</text>
<line x1="41.3" y1="697.6" x2="45.5" y2="697.6" stroke="#111111" stroke-width="1.5"/>
<text x="37.8" y="700.1" font-size="7.7" text-anchor="end" textLength="8.4" lengthAdjust="spacingAndGlyphs">60</text>
<line x1="41.3" y1="673.2" x2="45.5" y2="673.2" stroke="#111111" stroke-width="1.5"/>
<text x="37.8" y="675.7" font-size="7.7" text-anchor="end" textLength="8.4" lengthAdjust="spacingAndGlyphs">80</text>
<line x1="41.3" y1="648.8" x2="45.5" y2="648.8" stroke="#111111" stroke-width="1.5"/>
<text x="37.8" y="651.3" font-size="7.7" text-anchor="end" textLength="12.2" lengthAdjust="spacingAndGlyphs">100</text>
<text x="17.5" y="707.1" font-size="10" text-anchor="middle" textLength="77.6" lengthAdjust="spacingAndGlyphs" transform="rotate(-90 17.5 707.1)">Donor chimerism (%)</text>
<line x1="44.8" y1="770.8" x2="227.5" y2="770.8" stroke="#111111" stroke-width="1.5"/>
<rect x="53" y="755" width="12" height="15.8" fill="#2d4a82"/>
<rect x="53" y="712" width="12" height="43" fill="#68a840"/>
<line x1="59" y1="755" x2="59" y2="736.4" stroke="#111111" stroke-width="1.5"/>
<rect x="56.25" y="735.5" width="5.5" height="1.8" fill="#111111"/>
<line x1="59" y1="712" x2="59" y2="697.7" stroke="#111111" stroke-width="1.5"/>
<rect x="56.25" y="696.8" width="5.5" height="1.8" fill="#111111"/>
<rect x="70.5" y="770" width="12" height="0.8" fill="#4b3d63"/>
<rect x="70.5" y="730.5" width="12" height="39.5" fill="#68a840"/>
<line x1="76.5" y1="770" x2="76.5" y2="769.1" stroke="#111111" stroke-width="1.5"/>
<rect x="73.75" y="768.2" width="5.5" height="1.8" fill="#111111"/>
<line x1="76.5" y1="730.5" x2="76.5" y2="714.7" stroke="#111111" stroke-width="1.5"/>
<rect x="73.75" y="713.8" width="5.5" height="1.8" fill="#111111"/>
<rect x="98.8" y="761.3" width="12.5" height="9.5" fill="#a8082e"/>
<rect x="98.8" y="725" width="12.5" height="36.3" fill="#2d4a82"/>
<rect x="98.8" y="700" width="12.5" height="25" fill="#68a840"/>
<line x1="105.05" y1="761.3" x2="105.05" y2="755.2" stroke="#111111" stroke-width="1.5"/>
<rect x="102.3" y="754.3" width="5.5" height="1.8" fill="#111111"/>
<line x1="105.05" y1="725" x2="105.05" y2="705.9" stroke="#111111" stroke-width="1.5"/>
<rect x="102.3" y="705" width="5.5" height="1.8" fill="#111111"/>
<line x1="105.05" y1="700" x2="105.05" y2="677.9" stroke="#111111" stroke-width="1.5"/>
<rect x="102.3" y="677" width="5.5" height="1.8" fill="#111111"/>
<rect x="116.3" y="767" width="11.7" height="3.8" fill="#a8082e"/>
<rect x="116.3" y="746.8" width="11.7" height="20.2" fill="#2d4a82"/>
<rect x="116.3" y="731.3" width="11.7" height="15.5" fill="#68a840"/>
<line x1="122.15" y1="767" x2="122.15" y2="766.4" stroke="#111111" stroke-width="1.5"/>
<rect x="119.4" y="765.5" width="5.5" height="1.8" fill="#111111"/>
<line x1="122.15" y1="746.8" x2="122.15" y2="735.4" stroke="#111111" stroke-width="1.5"/>
<rect x="119.4" y="734.5" width="5.5" height="1.8" fill="#111111"/>
<line x1="122.15" y1="731.3" x2="122.15" y2="728.4" stroke="#111111" stroke-width="1.5"/>
<rect x="119.4" y="727.5" width="5.5" height="1.8" fill="#111111"/>
<rect x="144.3" y="756.3" width="12" height="14.5" fill="#a8082e"/>
<rect x="144.3" y="708.8" width="12" height="47.5" fill="#2d4a82"/>
<rect x="144.3" y="697.5" width="12" height="11.3" fill="#68a840"/>
<line x1="150.3" y1="756.3" x2="150.3" y2="751.4" stroke="#111111" stroke-width="1.5"/>
<rect x="147.55" y="750.5" width="5.5" height="1.8" fill="#111111"/>
<line x1="150.3" y1="708.8" x2="150.3" y2="702.9" stroke="#111111" stroke-width="1.5"/>
<rect x="147.55" y="702" width="5.5" height="1.8" fill="#111111"/>
<line x1="150.3" y1="697.5" x2="150.3" y2="694.7" stroke="#111111" stroke-width="1.5"/>
<rect x="147.55" y="693.8" width="5.5" height="1.8" fill="#111111"/>
<rect x="161.8" y="763.3" width="12" height="7.5" fill="#a8082e"/>
<rect x="161.8" y="744" width="12" height="19.3" fill="#2d4a82"/>
<rect x="161.8" y="739.5" width="12" height="4.5" fill="#68a840"/>
<line x1="167.8" y1="763.3" x2="167.8" y2="758.4" stroke="#111111" stroke-width="1.5"/>
<rect x="165.05" y="757.5" width="5.5" height="1.8" fill="#111111"/>
<line x1="167.8" y1="744" x2="167.8" y2="738.4" stroke="#111111" stroke-width="1.5"/>
<rect x="165.05" y="737.5" width="5.5" height="1.8" fill="#111111"/>
<line x1="167.8" y1="739.5" x2="167.8" y2="733.4" stroke="#111111" stroke-width="1.5"/>
<rect x="165.05" y="732.5" width="5.5" height="1.8" fill="#111111"/>
<rect x="190.5" y="762" width="12" height="8.8" fill="#a8082e"/>
<rect x="190.5" y="720" width="12" height="42" fill="#2d4a82"/>
<rect x="190.5" y="700" width="12" height="20" fill="#68a840"/>
<line x1="196.5" y1="762" x2="196.5" y2="758.9" stroke="#111111" stroke-width="1.5"/>
<rect x="193.75" y="758" width="5.5" height="1.8" fill="#111111"/>
<line x1="196.5" y1="720" x2="196.5" y2="710.9" stroke="#111111" stroke-width="1.5"/>
<rect x="193.75" y="710" width="5.5" height="1.8" fill="#111111"/>
<line x1="196.5" y1="700" x2="196.5" y2="695.4" stroke="#111111" stroke-width="1.5"/>
<rect x="193.75" y="694.5" width="5.5" height="1.8" fill="#111111"/>
<rect x="208" y="765.8" width="11.3" height="5" fill="#a8082e"/>
<rect x="208" y="751.8" width="11.3" height="14" fill="#2d4a82"/>
<rect x="208" y="746.3" width="11.3" height="5.5" fill="#68a840"/>
<line x1="213.65" y1="765.8" x2="213.65" y2="760.4" stroke="#111111" stroke-width="1.5"/>
<rect x="210.9" y="759.5" width="5.5" height="1.8" fill="#111111"/>
<line x1="213.65" y1="751.8" x2="213.65" y2="742.2" stroke="#111111" stroke-width="1.5"/>
<rect x="210.9" y="741.3" width="5.5" height="1.8" fill="#111111"/>
<line x1="213.65" y1="746.3" x2="213.65" y2="739.2" stroke="#111111" stroke-width="1.5"/>
<rect x="210.9" y="738.3" width="5.5" height="1.8" fill="#111111"/>
<text x="70.9" y="684.5" font-size="6.5" text-anchor="middle" textLength="10.8" lengthAdjust="spacingAndGlyphs">n.s.</text>
<line x1="58.8" y1="687.5" x2="79.5" y2="687.5" stroke="#111111" stroke-width="1.3"/>
<polygon points="113.95,661.8 114.66,662.83 115.85,663.18 115.09,664.17 115.13,665.42 113.95,665 112.77,665.42 112.81,664.17 112.05,663.18 113.24,662.83" fill="#111111"/>
<polygon points="118.65,661.8 119.36,662.83 120.55,663.18 119.79,664.17 119.83,665.42 118.65,665 117.47,665.42 117.51,664.17 116.75,663.18 117.94,662.83" fill="#111111"/>
<line x1="106.8" y1="669.1" x2="126.2" y2="669.1" stroke="#111111" stroke-width="1.3"/>
<polygon points="158.7,680.2 159.41,681.23 160.6,681.58 159.84,682.57 159.88,683.82 158.7,683.4 157.52,683.82 157.56,682.57 156.8,681.58 157.99,681.23" fill="#111111"/>
<polygon points="163.4,680.2 164.11,681.23 165.3,681.58 164.54,682.57 164.58,683.82 163.4,683.4 162.22,683.82 162.26,682.57 161.5,681.58 162.69,681.23" fill="#111111"/>
<line x1="150.8" y1="687.5" x2="170.8" y2="687.5" stroke="#111111" stroke-width="1.3"/>
<polygon points="204.15,680.2 204.86,681.23 206.05,681.58 205.29,682.57 205.33,683.82 204.15,683.4 202.97,683.82 203.01,682.57 202.25,681.58 203.44,681.23" fill="#111111"/>
<polygon points="208.85,680.2 209.56,681.23 210.75,681.58 209.99,682.57 210.03,683.82 208.85,683.4 207.67,683.82 207.71,682.57 206.95,681.58 208.14,681.23" fill="#111111"/>
<line x1="196" y1="687.5" x2="216" y2="687.5" stroke="#111111" stroke-width="1.3"/>
<text x="60.5" y="780.81" font-size="7.3" text-anchor="middle" textLength="12.6" lengthAdjust="spacingAndGlyphs">WT</text>
<text x="78.3" y="780.81" font-size="7.3" text-anchor="middle" textLength="6" lengthAdjust="spacingAndGlyphs">KI</text>
<line x1="52.5" y1="786.3" x2="83.8" y2="786.3" stroke="#111111" stroke-width="1.3"/>
<text x="68.3" y="797.61" font-size="7.6" text-anchor="middle" textLength="25" lengthAdjust="spacingAndGlyphs">4 week</text>
<text x="104.5" y="780.81" font-size="7.3" text-anchor="middle" textLength="12.6" lengthAdjust="spacingAndGlyphs">WT</text>
<text x="123.8" y="780.81" font-size="7.3" text-anchor="middle" textLength="6" lengthAdjust="spacingAndGlyphs">KI</text>
<line x1="97.5" y1="786.3" x2="127.5" y2="786.3" stroke="#111111" stroke-width="1.3"/>
<text x="112.5" y="797.61" font-size="7.6" text-anchor="middle" textLength="25" lengthAdjust="spacingAndGlyphs">8 week</text>
<text x="150" y="780.81" font-size="7.3" text-anchor="middle" textLength="12.6" lengthAdjust="spacingAndGlyphs">WT</text>
<text x="168.3" y="780.81" font-size="7.3" text-anchor="middle" textLength="6" lengthAdjust="spacingAndGlyphs">KI</text>
<line x1="142.5" y1="786.3" x2="173" y2="786.3" stroke="#111111" stroke-width="1.3"/>
<text x="158.3" y="797.61" font-size="7.6" text-anchor="middle" textLength="29" lengthAdjust="spacingAndGlyphs">16 week</text>
<text x="196.3" y="780.81" font-size="7.3" text-anchor="middle" textLength="12.6" lengthAdjust="spacingAndGlyphs">WT</text>
<text x="214" y="780.81" font-size="7.3" text-anchor="middle" textLength="6" lengthAdjust="spacingAndGlyphs">KI</text>
<line x1="190" y1="786.3" x2="220.5" y2="786.3" stroke="#111111" stroke-width="1.3"/>
<text x="205" y="797.61" font-size="7.6" text-anchor="middle" textLength="29" lengthAdjust="spacingAndGlyphs">28 week</text>
<text x="277.8" y="627.7" font-size="13.3" textLength="7.4" lengthAdjust="spacingAndGlyphs" font-weight="bold" style="stroke-width:0.55px">F</text>
<text x="370.3" y="628.1" font-size="10.3" textLength="91" lengthAdjust="spacingAndGlyphs">Intra BM transplant</text>
<rect x="447.6" y="637.5" width="8.7" height="6.2" fill="#68a840"/>
<text x="458.8" y="643.3" font-size="8.1" textLength="43.8" lengthAdjust="spacingAndGlyphs">Myeloid cell</text>
<rect x="447.6" y="649.8" width="8.7" height="6" fill="#2d4a82"/>
<text x="458.8" y="655.4" font-size="8.1" textLength="19.2" lengthAdjust="spacingAndGlyphs">B cell</text>
<rect x="447.6" y="662" width="8.7" height="6" fill="#a8082e"/>
<text x="458.8" y="667.6" font-size="8.1" textLength="19.2" lengthAdjust="spacingAndGlyphs">T cell</text>
<line x1="311.75" y1="771.3" x2="311.75" y2="633.1" stroke="#111111" stroke-width="1.75"/>
<line x1="307.55" y1="770.6" x2="311.75" y2="770.6" stroke="#111111" stroke-width="1.5"/>
<text x="304.05" y="773.1" font-size="7.7" text-anchor="end" textLength="4.3" lengthAdjust="spacingAndGlyphs">0</text>
<line x1="307.55" y1="743.8" x2="311.75" y2="743.8" stroke="#111111" stroke-width="1.5"/>
<text x="304.05" y="746.3" font-size="7.7" text-anchor="end" textLength="8.4" lengthAdjust="spacingAndGlyphs">20</text>
<line x1="307.55" y1="717" x2="311.75" y2="717" stroke="#111111" stroke-width="1.5"/>
<text x="304.05" y="719.5" font-size="7.7" text-anchor="end" textLength="8.4" lengthAdjust="spacingAndGlyphs">40</text>
<line x1="307.55" y1="690.2" x2="311.75" y2="690.2" stroke="#111111" stroke-width="1.5"/>
<text x="304.05" y="692.7" font-size="7.7" text-anchor="end" textLength="8.4" lengthAdjust="spacingAndGlyphs">60</text>
<line x1="307.55" y1="663.4" x2="311.75" y2="663.4" stroke="#111111" stroke-width="1.5"/>
<text x="304.05" y="665.9" font-size="7.7" text-anchor="end" textLength="8.4" lengthAdjust="spacingAndGlyphs">80</text>
<line x1="307.55" y1="636.6" x2="311.75" y2="636.6" stroke="#111111" stroke-width="1.5"/>
<text x="304.05" y="639.1" font-size="7.7" text-anchor="end" textLength="12.2" lengthAdjust="spacingAndGlyphs">100</text>
<text x="284" y="702" font-size="10" text-anchor="middle" textLength="79.1" lengthAdjust="spacingAndGlyphs" transform="rotate(-90 284 702)">Donor chimerism (%)</text>
<line x1="311" y1="770.6" x2="510.3" y2="770.6" stroke="#111111" stroke-width="1.5"/>
<rect x="318.9" y="768.8" width="9.9" height="1.8" fill="#4b3d63"/>
<rect x="318.9" y="713.5" width="9.9" height="55.3" fill="#68a840"/>
<line x1="323.85" y1="768.8" x2="323.85" y2="766.9" stroke="#111111" stroke-width="1.5"/>
<rect x="321.35" y="766" width="5" height="1.8" fill="#111111"/>
<line x1="323.85" y1="713.5" x2="323.85" y2="710.4" stroke="#111111" stroke-width="1.5"/>
<rect x="321.35" y="709.5" width="5" height="1.8" fill="#111111"/>
<rect x="333.9" y="768" width="9.5" height="2.6" fill="#a8082e"/>
<rect x="333.9" y="765.5" width="9.5" height="2.5" fill="#2d4a82"/>
<rect x="333.9" y="724.5" width="9.5" height="41" fill="#68a840"/>
<line x1="338.65" y1="765.5" x2="338.65" y2="762.9" stroke="#111111" stroke-width="1.5"/>
<rect x="336.15" y="762" width="5" height="1.8" fill="#111111"/>
<line x1="338.65" y1="724.5" x2="338.65" y2="719.7" stroke="#111111" stroke-width="1.5"/>
<rect x="336.15" y="718.8" width="5" height="1.8" fill="#111111"/>
<rect x="358.8" y="767.5" width="9.7" height="3.1" fill="#4b3d63"/>
<rect x="358.8" y="724.5" width="9.7" height="43" fill="#68a840"/>
<line x1="363.65" y1="767.5" x2="363.65" y2="765.4" stroke="#111111" stroke-width="1.5"/>
<rect x="361.15" y="764.5" width="5" height="1.8" fill="#111111"/>
<line x1="363.65" y1="724.5" x2="363.65" y2="712.1" stroke="#111111" stroke-width="1.5"/>
<rect x="361.15" y="711.2" width="5" height="1.8" fill="#111111"/>
<rect x="373.4" y="769.5" width="9.7" height="1.1" fill="#4b3d63"/>
<rect x="373.4" y="746.5" width="9.7" height="23" fill="#68a840"/>
<line x1="378.25" y1="746.5" x2="378.25" y2="731.2" stroke="#111111" stroke-width="1.5"/>
<rect x="375.75" y="730.3" width="5" height="1.8" fill="#111111"/>
<rect x="398.1" y="765.9" width="9.9" height="4.7" fill="#a8082e"/>
<rect x="398.1" y="751.1" width="9.9" height="14.8" fill="#2d4a82"/>
<rect x="398.1" y="734.7" width="9.9" height="16.4" fill="#68a840"/>
<line x1="403.05" y1="765.9" x2="403.05" y2="765.8" stroke="#111111" stroke-width="1.5"/>
<rect x="400.55" y="764.9" width="5" height="1.8" fill="#111111"/>
<line x1="403.05" y1="751.1" x2="403.05" y2="746" stroke="#111111" stroke-width="1.5"/>
<rect x="400.55" y="745.1" width="5" height="1.8" fill="#111111"/>
<line x1="403.05" y1="734.7" x2="403.05" y2="731.2" stroke="#111111" stroke-width="1.5"/>
<rect x="400.55" y="730.3" width="5" height="1.8" fill="#111111"/>
<rect x="413.4" y="765.9" width="10.1" height="4.7" fill="#a8082e"/>
<rect x="413.4" y="762.4" width="10.1" height="3.5" fill="#2d4a82"/>
<rect x="413.4" y="758" width="10.1" height="4.4" fill="#68a840"/>
<line x1="418.45" y1="762.4" x2="418.45" y2="761.2" stroke="#111111" stroke-width="1.5"/>
<rect x="415.95" y="760.3" width="5" height="1.8" fill="#111111"/>
<line x1="418.45" y1="758" x2="418.45" y2="757.5" stroke="#111111" stroke-width="1.5"/>
<rect x="415.95" y="756.6" width="5" height="1.8" fill="#111111"/>
<rect x="438.1" y="744.2" width="9.9" height="26.4" fill="#a8082e"/>
<rect x="438.1" y="731.9" width="9.9" height="12.3" fill="#2d4a82"/>
<rect x="438.1" y="722.7" width="9.9" height="9.2" fill="#68a840"/>
<line x1="443.05" y1="744.2" x2="443.05" y2="743.2" stroke="#111111" stroke-width="1.5"/>
<rect x="440.55" y="742.3" width="5" height="1.8" fill="#111111"/>
<line x1="443.05" y1="731.9" x2="443.05" y2="728.2" stroke="#111111" stroke-width="1.5"/>
<rect x="440.55" y="727.3" width="5" height="1.8" fill="#111111"/>
<line x1="443.05" y1="722.7" x2="443.05" y2="716.2" stroke="#111111" stroke-width="1.5"/>
<rect x="440.55" y="715.3" width="5" height="1.8" fill="#111111"/>
<rect x="453.5" y="763.5" width="9.3" height="7.1" fill="#a8082e"/>
<rect x="453.5" y="762.2" width="9.3" height="1.3" fill="#2d4a82"/>
<rect x="453.5" y="761.2" width="9.3" height="1" fill="#68a840"/>
<line x1="458.15" y1="763.5" x2="458.15" y2="760.5" stroke="#111111" stroke-width="1.5"/>
<rect x="455.65" y="759.6" width="5" height="1.8" fill="#111111"/>
<rect x="477.8" y="744.2" width="9.9" height="26.4" fill="#a8082e"/>
<rect x="477.8" y="728.5" width="9.9" height="15.7" fill="#2d4a82"/>
<rect x="477.8" y="721.5" width="9.9" height="7" fill="#68a840"/>
<line x1="482.75" y1="728.5" x2="482.75" y2="726.6" stroke="#111111" stroke-width="1.5"/>
<rect x="480.25" y="725.7" width="5" height="1.8" fill="#111111"/>
<line x1="482.75" y1="721.5" x2="482.75" y2="716.7" stroke="#111111" stroke-width="1.5"/>
<rect x="480.25" y="715.8" width="5" height="1.8" fill="#111111"/>
<rect x="493.5" y="767.7" width="9.2" height="2.9" fill="#a8082e"/>
<line x1="498.1" y1="767.7" x2="498.1" y2="767" stroke="#111111" stroke-width="1.5"/>
<rect x="495.6" y="766.1" width="5" height="1.8" fill="#111111"/>
<polygon points="329.5,690.7 330.21,691.73 331.4,692.08 330.64,693.07 330.68,694.32 329.5,693.9 328.32,694.32 328.36,693.07 327.6,692.08 328.79,691.73" fill="#111111"/>
<line x1="322.4" y1="698" x2="336.9" y2="698" stroke="#111111" stroke-width="1.3"/>
<polygon points="371.1,690.7 371.81,691.73 373,692.08 372.24,693.07 372.28,694.32 371.1,693.9 369.92,694.32 369.96,693.07 369.2,692.08 370.39,691.73" fill="#111111"/>
<line x1="363.5" y1="698" x2="378.5" y2="698" stroke="#111111" stroke-width="1.3"/>
<polygon points="404.9,701.5 405.61,702.53 406.8,702.88 406.04,703.87 406.08,705.12 404.9,704.7 403.72,705.12 403.76,703.87 403,702.88 404.19,702.53" fill="#111111"/>
<polygon points="409.6,701.5 410.31,702.53 411.5,702.88 410.74,703.87 410.78,705.12 409.6,704.7 408.42,705.12 408.46,703.87 407.7,702.88 408.89,702.53" fill="#111111"/>
<polygon points="414.3,701.5 415.01,702.53 416.2,702.88 415.44,703.87 415.48,705.12 414.3,704.7 413.12,705.12 413.16,703.87 412.4,702.88 413.59,702.53" fill="#111111"/>
<line x1="402" y1="708.8" x2="416.5" y2="708.8" stroke="#111111" stroke-width="1.3"/>
<polygon points="445.85,701.5 446.56,702.53 447.75,702.88 446.99,703.87 447.03,705.12 445.85,704.7 444.67,705.12 444.71,703.87 443.95,702.88 445.14,702.53" fill="#111111"/>
<polygon points="450.55,701.5 451.26,702.53 452.45,702.88 451.69,703.87 451.73,705.12 450.55,704.7 449.37,705.12 449.41,703.87 448.65,702.88 449.84,702.53" fill="#111111"/>
<polygon points="455.25,701.5 455.96,702.53 457.15,702.88 456.39,703.87 456.43,705.12 455.25,704.7 454.07,705.12 454.11,703.87 453.35,702.88 454.54,702.53" fill="#111111"/>
<line x1="442.7" y1="708.8" x2="457.7" y2="708.8" stroke="#111111" stroke-width="1.3"/>
<polygon points="487.9,701.5 488.61,702.53 489.8,702.88 489.04,703.87 489.08,705.12 487.9,704.7 486.72,705.12 486.76,703.87 486,702.88 487.19,702.53" fill="#111111"/>
<polygon points="492.6,701.5 493.31,702.53 494.5,702.88 493.74,703.87 493.78,705.12 492.6,704.7 491.42,705.12 491.46,703.87 490.7,702.88 491.89,702.53" fill="#111111"/>
<line x1="482.6" y1="708.8" x2="497.4" y2="708.8" stroke="#111111" stroke-width="1.3"/>
<text x="323.8" y="780.61" font-size="7.3" text-anchor="middle" textLength="12.6" lengthAdjust="spacingAndGlyphs">WT</text>
<text x="338.8" y="780.61" font-size="7.3" text-anchor="middle" textLength="6" lengthAdjust="spacingAndGlyphs">KI</text>
<line x1="315" y1="786.6" x2="345" y2="786.6" stroke="#111111" stroke-width="1.3"/>
<text x="330.5" y="797.11" font-size="7.6" text-anchor="middle" textLength="25" lengthAdjust="spacingAndGlyphs">1 week</text>
<text x="363" y="780.61" font-size="7.3" text-anchor="middle" textLength="12.6" lengthAdjust="spacingAndGlyphs">WT</text>
<text x="378" y="780.61" font-size="7.3" text-anchor="middle" textLength="6" lengthAdjust="spacingAndGlyphs">KI</text>
<line x1="354.7" y1="786.6" x2="384.9" y2="786.6" stroke="#111111" stroke-width="1.3"/>
<text x="369.7" y="797.11" font-size="7.6" text-anchor="middle" textLength="25" lengthAdjust="spacingAndGlyphs">2 week</text>
<text x="403.2" y="780.61" font-size="7.3" text-anchor="middle" textLength="12.6" lengthAdjust="spacingAndGlyphs">WT</text>
<text x="418.4" y="780.61" font-size="7.3" text-anchor="middle" textLength="6" lengthAdjust="spacingAndGlyphs">KI</text>
<line x1="394.6" y1="786.6" x2="424.2" y2="786.6" stroke="#111111" stroke-width="1.3"/>
<text x="409.2" y="797.11" font-size="7.6" text-anchor="middle" textLength="25" lengthAdjust="spacingAndGlyphs">4 week</text>
<text x="443.2" y="780.61" font-size="7.3" text-anchor="middle" textLength="12.6" lengthAdjust="spacingAndGlyphs">WT</text>
<text x="458.2" y="780.61" font-size="7.3" text-anchor="middle" textLength="6" lengthAdjust="spacingAndGlyphs">KI</text>
<line x1="434.2" y1="786.6" x2="464.2" y2="786.6" stroke="#111111" stroke-width="1.3"/>
<text x="448.9" y="797.11" font-size="7.6" text-anchor="middle" textLength="25" lengthAdjust="spacingAndGlyphs">8 week</text>
<text x="482.4" y="780.61" font-size="7.3" text-anchor="middle" textLength="12.6" lengthAdjust="spacingAndGlyphs">WT</text>
<text x="498.1" y="780.61" font-size="7.3" text-anchor="middle" textLength="6" lengthAdjust="spacingAndGlyphs">KI</text>
<line x1="474.3" y1="786.6" x2="504.3" y2="786.6" stroke="#111111" stroke-width="1.3"/>
<text x="489.3" y="797.11" font-size="7.6" text-anchor="middle" textLength="29" lengthAdjust="spacingAndGlyphs">16 week</text>
<rect x="0" y="0" width="520" height="1.5" fill="#000"/>
<rect x="0" y="0" width="1.7" height="808" fill="#000"/>
<rect x="518.5" y="0" width="1.5" height="808" fill="#000"/>
<rect x="0" y="806.4" width="520" height="1.6" fill="#000"/>
</svg>
</body></html>
